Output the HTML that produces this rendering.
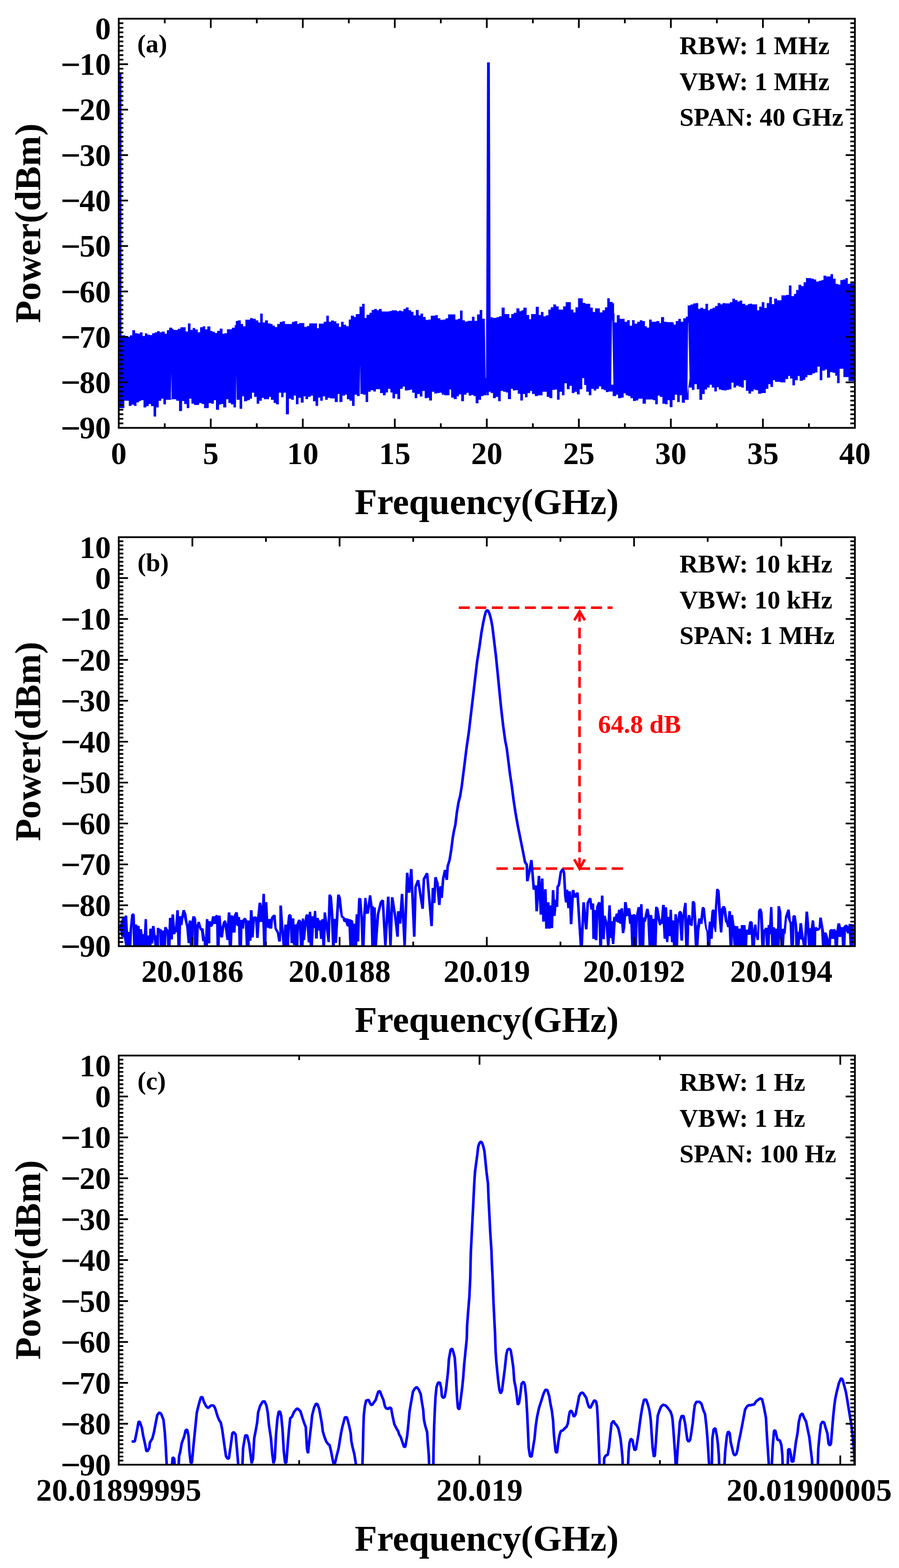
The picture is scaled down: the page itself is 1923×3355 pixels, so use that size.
<!DOCTYPE html>
<html><head><meta charset="utf-8"><title>Spectrum</title>
<style>html,body{margin:0;padding:0;background:#fff;}svg{display:block;}</style></head>
<body><svg width="1923" height="3355" viewBox="0 0 1923 3355">
<rect width="1923" height="3355" fill="#fff"/>
<defs>
<clipPath id="clipa"><rect x="254" y="40" width="1574.7" height="875.5"/></clipPath>
<clipPath id="clipb"><rect x="254" y="1149.4" width="1574.7" height="875.1"/></clipPath>
<clipPath id="clipc"><rect x="254" y="2258.5" width="1574.7" height="875.5"/></clipPath>
</defs>
<g clip-path="url(#clipa)">
<path d="M256,717.4 L268,717.4 L268,719.1 L274,719.1 L274,720.5 L278,720.5 L278,717.4 L283,717.4 L283,706.4 L289,706.4 L289,713 L294.5,713 L294.5,714.1 L299,714.1 L299,711.3 L305,711.3 L305,719.1 L310,719.1 L310,713.2 L315,713.2 L315,716 L320.5,716 L320.5,717.1 L325.5,717.1 L325.5,713 L331,713 L331,711.3 L336,711.3 L336,708.6 L341.5,708.6 L341.5,710.9 L346,710.9 L346,709.5 L352.5,709.5 L352.5,714.1 L357,714.1 L357,706.4 L362,706.4 L362,700.9 L368,700.9 L368,703.4 L371,703.4 L371,706.1 L380.5,706.1 L380.5,703.4 L386,703.4 L386,700.3 L397,700.3 L397,709.3 L402,709.3 L402,692.1 L407.5,692.1 L407.5,706.1 L412,706.1 L412,701.7 L417.5,701.7 L417.5,705 L423,705 L423,710.9 L428,710.9 L428,700.3 L433.5,700.3 L433.5,698.3 L439,698.3 L439,704.7 L443.5,704.7 L443.5,698.5 L450,698.5 L450,708.1 L454,708.1 L454,709.7 L459.5,709.7 L459.5,712.5 L464.5,712.5 L464.5,708.1 L470,708.1 L470,703.3 L476,703.3 L476,714.3 L480,714.3 L480,712.9 L485.5,712.9 L485.5,704.6 L496,704.6 L496,701.2 L502,701.2 L502,695.7 L504.5,695.7 L504.5,686.8 L509,686.8 L509,685.4 L515,685.4 L515,693.2 L520,693.2 L520,698.2 L525,698.2 L525,684 L535,684 L535,680.6 L540.5,680.6 L540.5,682 L547,682 L547,685.4 L552.5,685.4 L552.5,689.9 L556.5,689.9 L556.5,671 L562,671 L562,689.9 L567,689.9 L567,685.4 L573,685.4 L573,691.9 L578.5,691.9 L578.5,693.2 L583,693.2 L583,696.8 L588,696.8 L588,699.8 L593,699.8 L593,693.2 L598.5,693.2 L598.5,688.8 L604,688.8 L604,687.2 L609.5,687.2 L609.5,693.2 L624.5,693.2 L624.5,688.8 L630,688.8 L630,687.2 L636,687.2 L636,693.2 L640,693.2 L640,691.2 L651,691.2 L651,699.5 L656.5,699.5 L656.5,697.5 L661.5,697.5 L661.5,692 L678,692 L678,702.2 L682,702.2 L682,692.6 L692.5,692.6 L692.5,688.5 L698,688.5 L698,675.5 L703.5,675.5 L703.5,688.5 L708,688.5 L708,685.7 L714,685.7 L714,687.4 L719.5,687.4 L719.5,692 L725,692 L725,699.5 L729.5,699.5 L729.5,688.5 L735,688.5 L735,694.8 L740.5,694.8 L740.5,698.1 L746,698.1 L746,683.8 L750.5,683.8 L750.5,675.5 L757,675.5 L757,678.3 L761,678.3 L761,672 L769,672 L769,656.3 L774.5,656.3 L774.5,650 L780,650 L780,680.2 L784,680.2 L784,673.6 L790.5,673.6 L790.5,669.2 L795,669.2 L795,663.2 L800.5,663.2 L800.5,661 L806,661 L806,663.7 L810.5,663.7 L810.5,661 L816.5,661 L816.5,666.5 L832.5,666.5 L832.5,665.4 L838,665.4 L838,664 L849,664 L849,665.9 L853.5,665.9 L853.5,664.6 L858.5,664.6 L858.5,665.9 L863,665.9 L863,661 L868,661 L868,657.7 L874,657.7 L874,663.7 L879.5,663.7 L879.5,667.3 L884.5,667.3 L884.5,674.7 L889.5,674.7 L889.5,663.2 L895.5,663.2 L895.5,674.7 L899.5,674.7 L899.5,670.9 L905,670.9 L905,678.3 L910.5,678.3 L910.5,684.6 L916,684.6 L916,683.8 L921.5,683.8 L921.5,675.5 L931,675.5 L931,674.2 L936.5,674.2 L936.5,681 L942,681 L942,684.6 L947.5,684.6 L947.5,683.8 L953,683.8 L953,681 L958.5,681 L958.5,672.8 L974,672.8 L974,683.8 L979.5,683.8 L979.5,681.9 L984,681.9 L984,664.6 L989.5,664.6 L989.5,685.2 L994.5,685.2 L994.5,687.9 L1000,687.9 L1000,686.5 L1009.5,686.5 L1009.5,677.7 L1015,677.7 L1015,686.5 L1020.5,686.5 L1020.5,672.8 L1026,672.8 L1026,663.2 L1031.5,663.2 L1031.5,681.9 L1041.5,681.9 L1041.5,682.3 L1049.5,682.3 L1049.5,678.4 L1053.5,678.4 L1053.5,680.3 L1062,680.3 L1062,678.4 L1067.5,678.4 L1067.5,676.7 L1073,676.7 L1073,658.3 L1079.5,658.3 L1079.5,672 L1089.5,672 L1089.5,680.3 L1093.5,680.3 L1093.5,672 L1099,672 L1099,669.3 L1104.5,669.3 L1104.5,659.7 L1111,659.7 L1111,665.7 L1115.5,665.7 L1115.5,663.8 L1119.5,663.8 L1119.5,658.3 L1126.5,658.3 L1126.5,674 L1132,674 L1132,683 L1136,683 L1136,672 L1146,672 L1146,656.4 L1152.5,656.4 L1152.5,674 L1157,674 L1157,667.4 L1162.5,667.4 L1162.5,676.7 L1167.5,676.7 L1167.5,674.8 L1173,674.8 L1173,662.4 L1178,662.4 L1178,657.5 L1183.5,657.5 L1183.5,651.4 L1189.5,651.4 L1189.5,655.5 L1195,655.5 L1195,662.4 L1204.5,662.4 L1204.5,655.5 L1210,655.5 L1210,646.5 L1221,646.5 L1221,662.4 L1226.5,662.4 L1226.5,668.5 L1231,668.5 L1231,657.5 L1236.5,657.5 L1236.5,638.2 L1246.5,638.2 L1246.5,648.1 L1252,648.1 L1252,650.1 L1262.5,650.1 L1262.5,658.3 L1268,658.3 L1268,667.4 L1273,667.4 L1273,659.7 L1283,659.7 L1283,668.5 L1288.5,668.5 L1288.5,663.8 L1294,663.8 L1294,657.5 L1299,657.5 L1299,638.2 L1304.5,638.2 L1304.5,645.9 L1310.5,645.9 L1310.5,648.7 L1313.5,648.7 L1313.5,670.7 L1314.5,670.7 L1314.5,689.9 L1319.5,689.9 L1319.5,674.2 L1325.5,674.2 L1325.5,682.2 L1336,682.2 L1336,688.5 L1341.5,688.5 L1341.5,684.9 L1347,684.9 L1347,696.8 L1352,696.8 L1352,684.9 L1357.5,684.9 L1357.5,692.6 L1363,692.6 L1363,688.5 L1368.5,688.5 L1368.5,685.2 L1374,685.2 L1374,687.1 L1379.5,687.1 L1379.5,698.1 L1383.5,698.1 L1383.5,700.9 L1388.5,700.9 L1388.5,683.8 L1394,683.8 L1394,688.5 L1404,688.5 L1404,687.1 L1410.5,687.1 L1410.5,691.3 L1414,691.3 L1414,678.4 L1420.5,678.4 L1420.5,688.5 L1426,688.5 L1426,689.3 L1440,689.3 L1440,690.5 L1441,690.5 L1441,694.6 L1445.5,694.6 L1445.5,686.9 L1451,686.9 L1451,682.3 L1456.5,682.3 L1456.5,688.6 L1461.5,688.6 L1461.5,680.9 L1467,680.9 L1467,677.6 L1471,677.6 L1471,653.4 L1477,653.4 L1477,651.5 L1482.5,651.5 L1482.5,649.3 L1488,649.3 L1488,648.5 L1493.5,648.5 L1493.5,661.1 L1498,661.1 L1498,658.4 L1504,658.4 L1504,661.1 L1509,661.1 L1509,650.1 L1514.5,650.1 L1514.5,663.8 L1518.5,663.8 L1518.5,661.1 L1524,661.1 L1524,658.4 L1529.5,658.4 L1529.5,654.8 L1535,654.8 L1535,648.5 L1541,648.5 L1541,651.2 L1545.5,651.2 L1545.5,648.5 L1551.5,648.5 L1551.5,649.3 L1561,649.3 L1561,646.5 L1566.5,646.5 L1566.5,639.1 L1572,639.1 L1572,641.9 L1577.5,641.9 L1577.5,645.2 L1582,645.2 L1582,643 L1587.5,643 L1587.5,650.1 L1594,650.1 L1594,652.9 L1599.5,652.9 L1599.5,650.7 L1603.5,650.7 L1603.5,649.8 L1609,649.8 L1609,651.2 L1619.5,651.2 L1619.5,663.8 L1624,663.8 L1624,656.2 L1629.5,656.2 L1629.5,646.5 L1635,646.5 L1635,658.9 L1640,658.9 L1640,648.5 L1645.5,648.5 L1645.5,635.5 L1651,635.5 L1651,650.7 L1656,650.7 L1656,638.8 L1662,638.8 L1662,642.4 L1671.5,642.4 L1671.5,632 L1682,632 L1682,630.9 L1687.5,630.9 L1687.5,610.8 L1693,610.8 L1693,633.4 L1698.5,633.4 L1698.5,628.7 L1703,628.7 L1703,620.4 L1708,620.4 L1708,609.5 L1714,609.5 L1714,612.2 L1719,612.2 L1719,604 L1724,604 L1724,594.9 L1735,594.9 L1735,596.3 L1740.5,596.3 L1740.5,597.9 L1746,597.9 L1746,602.6 L1751.5,602.6 L1751.5,600.7 L1757,600.7 L1757,599.3 L1761.5,599.3 L1761.5,589.7 L1767,589.7 L1767,591.6 L1776.5,591.6 L1776.5,586.6 L1782,586.6 L1782,596.3 L1787.5,596.3 L1787.5,607.5 L1793,607.5 L1793,608.9 L1797.5,608.9 L1797.5,599.3 L1803,599.3 L1803,597.9 L1808.5,597.9 L1808.5,594.9 L1813.5,594.9 L1813.5,607.3 L1818,607.3 L1818,606.2 L1827.5,606.2 L1827.5,815.5 L1815,815.5 L1815,806.8 L1804,806.8 L1804,788.9 L1796,788.9 L1796,819.7 L1790.5,819.7 L1790.5,803.7 L1786.5,803.7 L1786.5,797.7 L1781,797.7 L1781,796.3 L1775.5,796.3 L1775.5,808.1 L1769,808.1 L1769,790.8 L1764.5,790.8 L1764.5,793 L1759,793 L1759,813.6 L1753.5,813.6 L1753.5,784.5 L1748.5,784.5 L1748.5,797.1 L1743,797.1 L1743,799.1 L1737.5,799.1 L1737.5,802.4 L1727,802.4 L1727,807.3 L1722.5,807.3 L1722.5,812.8 L1717.5,812.8 L1717.5,814.7 L1710.5,814.7 L1710.5,804.6 L1706.5,804.6 L1706.5,813.6 L1700.5,813.6 L1700.5,824.6 L1695,824.6 L1695,810.1 L1690,810.1 L1690,804.6 L1686,804.6 L1686,810.9 L1680,810.9 L1680,818.3 L1669.5,818.3 L1669.5,816.9 L1658,816.9 L1658,813.6 L1653.5,813.6 L1653.5,827.9 L1648,827.9 L1648,821.9 L1643.5,821.9 L1643.5,832 L1638,832 L1638,841.1 L1628.5,841.1 L1628.5,842.5 L1621.5,842.5 L1621.5,834.8 L1616,834.8 L1616,833.4 L1612,833.4 L1612,837.5 L1606.5,837.5 L1606.5,842.2 L1601,842.2 L1601,836.2 L1595.5,836.2 L1595.5,813.6 L1591,813.6 L1591,829.3 L1585.5,829.3 L1585.5,827.4 L1580,827.4 L1580,825.2 L1574.5,825.2 L1574.5,829.3 L1569,829.3 L1569,818.8 L1564.5,818.8 L1564.5,832.9 L1559.5,832.9 L1559.5,834.2 L1554,834.2 L1554,835.6 L1548.5,835.6 L1548.5,834.8 L1543,834.8 L1543,833.4 L1537.5,833.4 L1537.5,828.5 L1533.5,828.5 L1533.5,837.5 L1528,837.5 L1528,829.3 L1522.5,829.3 L1522.5,823.2 L1518,823.2 L1518,829.3 L1512.5,829.3 L1512.5,833.4 L1507.5,833.4 L1507.5,843 L1502,843 L1502,855.4 L1496,855.4 L1496,832.9 L1490.5,832.9 L1490.5,821.9 L1485.5,821.9 L1485.5,834.2 L1480,834.2 L1480,829.3 L1473,829.3 L1473,855.4 L1465,855.4 L1465,861.7 L1458.5,861.7 L1458.5,845.8 L1454,845.8 L1454,860.3 L1448.5,860.3 L1448.5,844.4 L1443.5,844.4 L1443.5,855.9 L1438.5,855.9 L1438.5,871.3 L1436,871.3 L1436,871.3 L1432.5,871.3 L1432.5,856.2 L1428,856.2 L1428,864.9 L1422.5,864.9 L1422.5,863.8 L1417,863.8 L1417,849.3 L1411.5,849.3 L1411.5,846.5 L1407,846.5 L1407,864.9 L1401.5,864.9 L1401.5,856.2 L1396.5,856.2 L1396.5,854.8 L1381.5,854.8 L1381.5,863.8 L1374.5,863.8 L1374.5,852.9 L1365.5,852.9 L1365.5,856.7 L1360,856.7 L1360,858.1 L1354,858.1 L1354,852 L1348.5,852 L1348.5,847.4 L1343.5,847.4 L1343.5,845.7 L1338.5,845.7 L1338.5,841.6 L1334,841.6 L1334,850.7 L1329,850.7 L1329,852 L1322,852 L1322,844.6 L1318,844.6 L1318,847.4 L1310.5,847.4 L1310.5,837.7 L1301.5,837.7 L1301.5,839.1 L1296,839.1 L1296,834.7 L1291.5,834.7 L1291.5,832.8 L1286,832.8 L1286,826.8 L1281,826.8 L1281,832 L1275.5,832 L1275.5,835.5 L1270,835.5 L1270,832 L1265,832 L1265,845.7 L1259.5,845.7 L1259.5,838.3 L1254,838.3 L1254,823.7 L1249.5,823.7 L1249.5,808.9 L1245.5,808.9 L1245.5,832.8 L1240,832.8 L1240,843.8 L1234,843.8 L1234,838.3 L1229,838.3 L1229,841 L1223,841 L1223,825.4 L1218.5,825.4 L1218.5,832.8 L1212.5,832.8 L1212.5,819.9 L1207.5,819.9 L1207.5,845.7 L1202,845.7 L1202,838.3 L1197,838.3 L1197,855.3 L1191.5,855.3 L1191.5,833.4 L1187,833.4 L1187,834.2 L1181.5,834.2 L1181.5,852 L1175,852 L1175,849.3 L1169.5,849.3 L1169.5,838.3 L1160.5,838.3 L1160.5,846 L1150.5,846 L1150.5,847.4 L1144,847.4 L1144,843 L1138,843 L1138,836.4 L1134,836.4 L1134,841 L1128.5,841 L1128.5,850.1 L1123,850.1 L1123,843 L1118.5,843 L1118.5,857 L1113,857 L1113,842.4 L1107.5,842.4 L1107.5,834.7 L1102.5,834.7 L1102.5,835.5 L1097,835.5 L1097,832 L1093,832 L1093,854 L1086.5,854 L1086.5,839.7 L1082,839.7 L1082,838.3 L1076.5,838.3 L1076.5,836.4 L1071,836.4 L1071,858.4 L1065.5,858.4 L1065.5,849.3 L1060.5,849.3 L1060.5,852 L1054.5,852 L1054.5,841 L1049.5,841 L1049.5,838.3 L1045.5,838.3 L1045.5,845.7 L1042,845.7 L1042,839.7 L1041.5,839.7 L1041.5,845.7 L1034.5,845.7 L1034.5,847.4 L1029,847.4 L1029,855.6 L1023.5,855.6 L1023.5,863 L1017.5,863 L1017.5,847.4 L1013,847.4 L1013,845.2 L1008,845.2 L1008,846.5 L1002.5,846.5 L1002.5,840.5 L998,840.5 L998,844.6 L992.5,844.6 L992.5,858.4 L986.5,858.4 L986.5,843.8 L981.5,843.8 L981.5,847.9 L977,847.9 L977,854 L970.5,854 L970.5,850.7 L965,850.7 L965,833.6 L961.5,833.6 L961.5,845.7 L950.5,845.7 L950.5,844.6 L945,844.6 L945,840.2 L940,840.2 L940,841 L935,841 L935,841.9 L929,841.9 L929,838.3 L924,838.3 L924,857 L918,857 L918,851.2 L914,851.2 L914,852 L908.5,852 L908.5,836.4 L903.5,836.4 L903.5,848.5 L898,848.5 L898,843 L892.5,843 L892.5,852 L887,852 L887,840.2 L881.5,840.2 L881.5,833.4 L878,833.4 L878,834.7 L872.5,834.7 L872.5,835.5 L866,835.5 L866,827.3 L861.5,827.3 L861.5,832 L856,832 L856,854 L850,854 L850,843 L845,843 L845,852.6 L839.5,852.6 L839.5,839.7 L835,839.7 L835,832 L830,832 L830,839.7 L825,839.7 L825,845.7 L819,845.7 L819,841 L813,841 L813,832.8 L804,832.8 L804,837.7 L798.5,837.7 L798.5,835 L793,835 L793,838.3 L787.5,838.3 L787.5,860.3 L782,860.3 L782,844.6 L776.5,844.6 L776.5,843 L771,843 L771,847.4 L763.5,847.4 L763.5,844.6 L758.5,844.6 L758.5,868.5 L753,868.5 L753,857.5 L747.5,857.5 L747.5,854.2 L742,854.2 L742,844.6 L738,844.6 L738,846.5 L732.5,846.5 L732.5,860.3 L726,860.3 L726,843 L722.5,843 L722.5,860.3 L716,860.3 L716,852.6 L706,852.6 L706,851.2 L701,851.2 L701,855.6 L695.5,855.6 L695.5,847.9 L690.5,847.9 L690.5,857.5 L685,857.5 L685,850.7 L680.5,850.7 L680.5,868.5 L675,868.5 L675,858.4 L669.5,858.4 L669.5,846.5 L664.5,846.5 L664.5,849.3 L659,849.3 L659,854 L653.5,854 L653.5,847.9 L649.5,847.9 L649.5,861.6 L643.5,861.6 L643.5,851.2 L638.5,851.2 L638.5,864.9 L633,864.9 L633,846.5 L628.5,846.5 L628.5,855.6 L623,855.6 L623,852.9 L618,852.9 L618,886.4 L611.5,886.4 L611.5,840.2 L606.5,840.2 L606.5,850.1 L601.5,850.1 L601.5,840.2 L596.5,840.2 L596.5,865.2 L590.5,865.2 L590.5,862.2 L585.5,862.2 L585.5,855.6 L579.5,855.6 L579.5,849.3 L575.5,849.3 L575.5,854.2 L564.5,854.2 L564.5,851.2 L560,851.2 L560,857.5 L554.5,857.5 L554.5,863.8 L549,863.8 L549,849.3 L543.5,849.3 L543.5,840.2 L539,840.2 L539,852.9 L534.5,852.9 L534.5,856.2 L529,856.2 L529,858.4 L522,858.4 L522,847.9 L518,847.9 L518,874.8 L512.5,874.8 L512.5,855.6 L505.5,855.6 L505.5,871.8 L499.5,871.8 L499.5,865.2 L494,865.2 L494,862.2 L488.5,862.2 L488.5,854.2 L484,854.2 L484,871.8 L477.5,871.8 L477.5,864.4 L472.5,864.4 L472.5,865.8 L468.5,865.8 L468.5,876.8 L462,876.8 L462,856.2 L457.5,856.2 L457.5,863.8 L452,863.8 L452,862.5 L446.5,862.5 L446.5,873.2 L436.5,873.2 L436.5,864.4 L431.5,864.4 L431.5,862.5 L426,862.5 L426,866.6 L415,866.6 L415,863.8 L409.5,863.8 L409.5,852.9 L405,852.9 L405,873.2 L399.5,873.2 L399.5,864.4 L394,864.4 L394,858.1 L389.5,858.1 L389.5,879.5 L383,879.5 L383,857.5 L377,857.5 L377,854.2 L365.5,854.2 L365.5,855.6 L355,855.6 L355,865.2 L349.5,865.2 L349.5,852.9 L345,852.9 L345,857.5 L339.5,857.5 L339.5,871.8 L334,871.8 L334,891.3 L328.5,891.3 L328.5,869.1 L323,869.1 L323,864.4 L318,864.4 L318,869.1 L313,869.1 L313,871.8 L307,871.8 L307,856.2 L301.5,856.2 L301.5,858.1 L297.5,858.1 L297.5,861.1 L292,861.1 L292,868.5 L286.5,868.5 L286.5,865.8 L281.5,865.8 L281.5,868.5 L275.5,868.5 L275.5,857.5 L266,857.5 L266,873.2 L256,873.2Z" fill="#0000ff"/>
<path d="M1041.8,133.6 L1047.8,133.6 L1049.4,700 L1040,700Z" fill="#0000ff"/>
<rect x="255.8" y="157.9" width="4" height="600" fill="#0000ff"/>
<path d="M366.3,796.8 L367.2,853 L365.6,853Z" fill="#fff"/>
<path d="M505.5,801 L506.4,873 L504.7,873Z" fill="#fff"/>
<path d="M770.2,779 L771.1,848 L769.4,848Z" fill="#fff"/>
<path d="M1037,682 L1039.8,682 L1039.6,809 L1038.9,809Z" fill="#fff"/>
<path d="M1309,686 L1309.6,686 L1312.1,823 L1307.4,823Z" fill="#fff"/>
<path d="M1472,690.5 L1472.4,690.5 L1475,809.6 L1470.3,843.6Z" fill="#fff"/>
</g>
<g stroke="#ff0000" stroke-width="5.5" fill="none">
<line x1="981.4" y1="1300.3" x2="1310.3" y2="1300.3" stroke-dasharray="23.4 11.95"/>
<line x1="1062" y1="1858.5" x2="1332.5" y2="1858.5" stroke-dasharray="24.1 11.1"/>
<line x1="1239.7" y1="1343" x2="1239.7" y2="1823.6" stroke-dasharray="22.8 12.4"/>
<line x1="1239.7" y1="1309" x2="1239.7" y2="1330.1"/>
<line x1="1239.6" y1="1835" x2="1239.6" y2="1858"/>
<polyline points="1228.5,1327.1 1239.8,1308.4 1251.1,1327.1" stroke-linejoin="miter" stroke-miterlimit="10"/>
<polyline points="1228.35,1838.65 1239.65,1858.6 1250.95,1838.65" stroke-linejoin="miter" stroke-miterlimit="10"/>
</g>
<text x="1279.3" y="1567.7" font-family="'Liberation Serif', 'Times New Roman', serif" font-weight="bold" font-size="55" fill="#ff0000">64.8 dB</text>
<g clip-path="url(#clipb)">
<path d="M255.4,1982.3 L260.9,1965.1 L261.6,1961.7 L266.4,1961 L267.4,1958.6 L272.2,1959.3 L273.9,1994 L276.7,1994 L280.4,1956.9 L284.2,1953.8 L288.3,1956.5 L289,1977.8 L293.5,1978.2 L294.2,1980.9 L298.6,1981.2 L299.3,1988.1 L303.8,1988.1 L305.2,1998.8 L307.6,1998.8 L309.3,1966.5 L314.4,1966.5 L315.5,2001.5 L318.9,2001.5 L319.2,1987.1 L324.4,1987.1 L325.1,1981.2 L330.6,1981.2 L333,2001.2 L334.7,2001.2 L335.4,1985.4 L340.5,1985 L341.6,1987.4 L345.7,1988.1 L346.4,1990.9 L350.5,1990.9 L351.2,1983.7 L354,1983.3 L354,2032 L341.9,2032 L340.7,1994.6 L339.9,2032 L330.9,2032 L328.9,2009.1 L327.8,2018.7 L324.4,2018.7 L324.1,2032 L284.9,2032 L283.2,1978.8 L280.8,2032 L269.1,2032 L264.6,2004.9 L259.2,2004.3 L255.4,1984.3Z" fill="#0000ff"/>
<path d="M354,1983.6 L356.2,1983.2 L360.3,1990.4 L361.3,1964 L366.5,1963.7 L366.8,1956.4 L372.3,1956.4 L374.4,1984.9 L377.1,1947.5 L382.6,1947.5 L383,1960.2 L387.8,1960.2 L390.2,1947.2 L395.3,1946.8 L398.8,1955.4 L402.2,1978.8 L403.6,1969.5 L408.7,1969.5 L409.4,1972.2 L411.5,1960.6 L417,1960.2 L419.7,1966.1 L420.4,1979.5 L422.5,1972.2 L427.6,1972.2 L431,1984.9 L435.5,1987 L438.6,2006.9 L440.3,1966.4 L445.5,1966.4 L446.2,1970.9 L450,1970.9 L450,2018.6 L445.1,2018.6 L444.4,2032 L436.2,2032 L435.5,2014.1 L432.4,2013.8 L429.7,1991.1 L427.6,1990.8 L425.2,1984.3 L423.8,2032 L414.9,2032 L414.2,1984.3 L413.5,2032 L406.3,2032 L405.6,2017.9 L401.2,2017.9 L398.1,1982.9 L392.9,1961.6 L390.5,1979.5 L387.4,1979.8 L386.1,2032 L379.5,2032 L378.5,1994.9 L376.1,1994.9 L375.1,1999 L370.3,1999 L369.9,2010 L365.5,2010 L364.8,2032 L357.6,2032 L356.5,1995.9 L354.8,2032 L354,2032Z" fill="#0000ff"/>
<path d="M450,1970.7 L451.4,1971.8 L453.4,1960.4 L459.6,1960.3 L462,1957.3 L466.5,1958.7 L472,1959.1 L474,1983.4 L477.1,1972.1 L480.9,1968.7 L484,1970.7 L485.7,1976.9 L487.1,1952.2 L492.9,1952.2 L493.3,1958.7 L497.4,1958.2 L499.5,1961.1 L501.2,1955.6 L503.6,1951.2 L508.7,1951.9 L509.8,1961.8 L513.5,1962.2 L513.9,1968 L518.7,1968 L522.1,1963.5 L526.2,1964.2 L529,1969.4 L533.8,1969.4 L534.5,1947.4 L540.3,1947.4 L541,1961.8 L545.5,1960.4 L550,1962.2 L550,2007.1 L547.9,2007.1 L545.5,1968 L542.7,2005.8 L538.3,2006.1 L537.9,2013 L534.1,2013 L533.8,2032 L525.9,2032 L523.5,1972.8 L522.1,1986.9 L518.7,1986.9 L517.7,2032 L510.1,2032 L509.1,1981.7 L506.3,1981.4 L504.9,1977.6 L503.9,1995.5 L497.4,1995.5 L496,2032 L489.5,2032 L488.5,2011.6 L484.3,2011.3 L480.2,1981.7 L477.1,2005.8 L472.7,2006.5 L470.6,2003.7 L469.8,2032 L463.2,2032 L462.2,1976.9 L456.9,1976.9 L454.8,1981.7 L452.1,1983.4 L450,1983.1Z" fill="#0000ff"/>
<path d="M550,1961.8 L553.1,1931.6 L558.9,1931.6 L560.3,1939.1 L561.3,1912.4 L566.8,1912.4 L567.2,1930.2 L572,1930.2 L573.7,1966.3 L578.8,1966.3 L580.6,1961.1 L585,1956.7 L589.8,1958 L591.9,1985.9 L595.3,1991.3 L597.4,1996.2 L597.5,1937.4 L603.2,1937.4 L607,1993.8 L608,1978.3 L613.9,1978.3 L615.9,1958.4 L619.4,1955.3 L623.8,1958 L624.5,1964.9 L629.7,1964.9 L630,1978 L633.8,1978 L637.6,1967.7 L642.4,1967.7 L645.1,1972.1 L645.5,1965.2 L650,1965.2 L650,2012.6 L648.9,2032 L642,2032 L639.3,1985.9 L638.3,2032 L631,2032 L630.4,2021.9 L626.9,2021.9 L626.2,2018.1 L621.4,2018.1 L620.1,1985.9 L618,2032 L604.9,2032 L601.9,1994.8 L600.8,2014.7 L595,2014.7 L591.9,1996.2 L587.4,1987.9 L584.3,1965.9 L582.3,1986.9 L576.1,1986.9 L573.7,1985.2 L570.6,1984.8 L569.9,2032 L563,2032 L561,1972.8 L555.5,1972.8 L553.4,2006.8 L550,2006.8Z" fill="#0000ff"/>
<path d="M650,1965.1 L651,1971.3 L653.1,1957.9 L656.2,1955.8 L659.8,1957.4 L660.8,1950.7 L665.5,1950.7 L666.5,1960.4 L670.6,1960.4 L671.6,1949.1 L676.3,1949.1 L677.3,1964 L681.9,1964 L683,1969.2 L687.1,1969.2 L687.6,1966.6 L691.7,1966.6 L692.2,1952.2 L697.4,1952.2 L700.5,1974.4 L702.5,1914.6 L707.2,1913.6 L710.3,1918.7 L713.9,1966.1 L718,1966.1 L721.1,1914.6 L726.2,1913.6 L729.3,1920.8 L733.4,1959.4 L736.5,1961.5 L737.6,1964 L739.6,1964.6 L743.7,1965.1 L746.8,1966.6 L749.9,1967.1 L755.1,1969.7 L756.1,1976.4 L759.7,1976.4 L760.7,1956.3 L764.4,1956.3 L765.9,1922.3 L769.5,1920.8 L773.1,1922.8 L776.2,1963 L779.3,1921.3 L783.9,1921.3 L786,1938.3 L789.1,1915.6 L794.2,1915.6 L797.3,1939.3 L800,1939.3 L800,2032 L794.2,2032 L791.7,1939.3 L789.1,1954.8 L782.4,1955.8 L779.8,2032 L773.1,2032 L770.5,1951.7 L768.5,2014.5 L764.4,2014.5 L763.8,2032 L747.4,2032 L745.3,1982.6 L741.7,1982.6 L738.6,1973.3 L734.5,1972.3 L732.4,1964.6 L729.3,1963 L725.2,1940.4 L721.1,2017.6 L716.4,2017.6 L715.9,2032 L710.3,2032 L707.2,1955.8 L705.6,2016.1 L700.5,2016.1 L696.9,1986.7 L695.3,2032 L689.7,2032 L688.6,2008.9 L684.5,2008.9 L683,1991.3 L680.4,1991.3 L679.9,2008.3 L673.7,2008.3 L673.2,1985.7 L671.6,1985.7 L669.1,2032 L663.4,2032 L661.8,2016.6 L658.2,2016.6 L655.7,1979.5 L652.6,2011.4 L650,2011.4Z" fill="#0000ff"/>
<path d="M1290,1915.5 L1291.5,1959.2 L1295.7,1959.2 L1299.3,1973.7 L1301.3,1937.1 L1306.5,1937.1 L1308,1971.1 L1310.6,1971.1 L1311.6,1961.8 L1315.2,1961.8 L1316.8,1954.6 L1320.9,1954.6 L1321.9,1946.4 L1326.6,1946.4 L1327.6,1943.3 L1332.8,1943.3 L1333.8,1955.6 L1334.8,1929.9 L1340.5,1929.9 L1342.5,1943.3 L1348.2,1943.3 L1350.3,1957.2 L1353.4,1957.2 L1353.9,1956.1 L1358.5,1956.1 L1360.1,1959.2 L1363.7,1940.7 L1368.8,1940.7 L1369.3,1934.5 L1374.5,1934.5 L1375.5,1963.4 L1378.1,1962.8 L1382.2,1944.3 L1387.4,1944.3 L1389.9,1957.7 L1395.1,1957.7 L1396.1,1965.9 L1399.7,1965.9 L1401.3,1940.2 L1405.4,1939.7 L1408.5,1943.3 L1412.6,1967 L1413.6,1967.5 L1416.2,1936.1 L1421.9,1936.1 L1422.4,1941.2 L1427,1941.2 L1428,1961.8 L1431.7,1961.8 L1432.2,1946.4 L1437.3,1946.4 L1438.3,1969 L1440,1969.5 L1440,2032 L1438.9,2016.4 L1435.3,2015.9 L1434.2,2003 L1430.6,2003 L1429.6,2015.9 L1425,2015.9 L1423.9,2008.7 L1419.3,2008.2 L1417.7,1976.7 L1415.2,1976.7 L1413.6,1979.8 L1409.5,1979.8 L1406.4,1967 L1404.4,2032 L1387.4,2032 L1384.3,1961.8 L1381.7,1972.6 L1379.6,1972.6 L1378.1,2032 L1366.2,2032 L1364.2,1965.9 L1362.6,2032 L1350.3,2032 L1348.2,1976.7 L1345.6,1976.7 L1343.6,1959.8 L1339.4,1960.8 L1337.4,1985.5 L1335.3,1996.8 L1330.2,1996.8 L1328.6,1976.7 L1325.5,1976.7 L1324,1974.2 L1319.9,1973.7 L1317.3,1971.1 L1314.2,2020 L1309.1,2020 L1307.5,2007.1 L1304.9,2007.1 L1303.4,2032 L1298.8,2032 L1295.2,1978.3 L1293.6,2009.7 L1290,2009.7Z" fill="#0000ff"/>
<path d="M1440,1969.5 L1442.1,1969.5 L1442.6,1956.1 L1447.7,1956.1 L1449.3,1965.9 L1450.8,1952 L1454.4,1948.4 L1458.5,1951 L1460.1,1957.7 L1461.6,1943.3 L1463.7,1931.4 L1468.8,1931.9 L1469.9,1967 L1471.4,1957.7 L1476.6,1957.7 L1478.1,1967 L1479.7,1928.8 L1484.3,1927.3 L1487.4,1931.9 L1490.5,1982.4 L1493.6,1964.9 L1498.2,1964.9 L1500.8,1941.7 L1504.9,1940.2 L1508,1943.3 L1512.1,1985.5 L1514.2,1992.7 L1516.2,1972.1 L1519.8,1972.1 L1521.9,1947.9 L1525.5,1945.3 L1528.6,1947.4 L1531.7,1902.1 L1536.3,1901.5 L1539.4,1905.7 L1542,1945.3 L1545.1,1939.1 L1549.7,1938.1 L1552.8,1943.3 L1556.4,1970.1 L1558,1949.4 L1563.6,1949.4 L1564.1,1957.7 L1568.3,1957.7 L1571.3,1980.4 L1573.9,1981.4 L1579.1,1981.4 L1579.6,1987.1 L1584.2,1987.1 L1584.7,1979.3 L1590,1979.3 L1590,2032 L1569.3,2032 L1567.7,2003 L1566.7,2032 L1560.5,2032 L1558.5,1984 L1555.4,1984 L1553.3,1976.2 L1550.7,1972.1 L1547.7,1953.6 L1545.1,1995.3 L1539.9,1995.3 L1534.3,1930.9 L1532.2,1994.3 L1529.1,1994.3 L1526,1981.4 L1524.5,2008.7 L1520.4,2008.7 L1519.3,2032 L1512.6,2032 L1511.1,1993.7 L1508.5,1986.5 L1504.4,1961.8 L1502.8,1976.7 L1498.2,1976.7 L1496.1,1990.7 L1493.6,2032 L1486.4,2032 L1483.3,1961.8 L1481.7,1980.9 L1478.1,1981.4 L1474.5,1978.3 L1473,2032 L1465.8,2032 L1463.2,1961.8 L1461.1,2012.8 L1455.5,2012.8 L1452.4,1971.1 L1450.3,2032 L1440,2032Z" fill="#0000ff"/>
<path d="M1590,1979.3 L1594.6,1979.3 L1595.7,1989.6 L1599.8,1988.6 L1602.4,1972.1 L1606.5,1970.6 L1610.1,1973.1 L1611.6,1989.6 L1613.2,1978.3 L1618.3,1978.3 L1619.9,1997.9 L1621.4,1948.4 L1624.5,1943.8 L1628.6,1944.3 L1631.2,1952.5 L1633.3,1989.6 L1637.4,1984.5 L1641.5,1985.5 L1642,1979.3 L1645.1,1979.3 L1647.2,1940.7 L1652.3,1940.7 L1653.9,1984 L1657.5,1984 L1658.5,1987.1 L1662.1,1987.1 L1663.1,1939.1 L1668.3,1938.6 L1671.4,1951.5 L1672.4,1987.6 L1676.5,1987.1 L1679.1,1960.8 L1684.3,1945.8 L1689.4,1946.4 L1692,1972.1 L1694,1972.1 L1695.1,1959.8 L1698.2,1957.7 L1702.3,1959.2 L1704.9,1977.3 L1706.4,1993.7 L1708.5,1993.7 L1710,1975.2 L1715.7,1975.2 L1717.7,1992.7 L1719.8,2008.2 L1722.9,1950.5 L1728.6,1950.5 L1731.7,1986.5 L1734.2,1985.5 L1736.3,1969 L1740,1969 L1740,2032 L1728.6,2032 L1726.5,1995.8 L1725,2032 L1718.3,2032 L1715.2,2011.3 L1711.6,2009.2 L1709.5,2032 L1701.3,2032 L1699.7,1976.2 L1698.2,2032 L1691,2032 L1688.9,1976.2 L1683.7,1961.8 L1680.7,1997.4 L1678.6,1997.9 L1676.5,2032 L1670.4,2032 L1668.8,2006.1 L1667.3,2032 L1649.8,2032 L1648.7,1998.9 L1647.2,1998.9 L1646.1,2032 L1638.4,2032 L1636.9,1995.8 L1635.3,2032 L1628.6,2032 L1625.5,1961.8 L1623.5,2011.3 L1618.3,2011.8 L1616.3,2001.5 L1614.7,2032 L1607.5,2032 L1606,1999.9 L1599.3,2000.4 L1597.7,2032 L1590,2032Z" fill="#0000ff"/>
<path d="M1740,1969.8 L1741.5,1969.4 L1743,1984.5 L1745.9,1983.1 L1748.4,1984.9 L1750.6,1986.3 L1752.4,1963.3 L1757.8,1963.3 L1763.2,1995 L1767.5,1995 L1769.3,1998.2 L1772.5,2010.1 L1773.6,1991 L1776.9,1987.4 L1780.5,1988.5 L1786.2,1987.4 L1788.8,1992.1 L1791.3,1975.5 L1797.1,1975.5 L1798.9,1983.8 L1803.6,1983.8 L1805.7,1980.6 L1808.6,1978.4 L1811.8,1978.4 L1814.4,1982 L1815.5,1976.6 L1820.5,1977 L1826.6,1977.7 L1826.6,2032 L1817.6,2032 L1815.8,1997.5 L1812.2,1997.5 L1809.7,1992.1 L1808.2,2032 L1801,2032 L1800,2004.7 L1793.5,2004.7 L1792.7,2032 L1785.2,2032 L1784.4,2009.1 L1778,2009.1 L1777.2,2032 L1768.9,2032 L1767.5,2021 L1766.8,2032 L1758.5,2032 L1756,1984.9 L1753.8,1989.6 L1750.6,1991.4 L1746.2,1992.1 L1745.5,2032 L1740,2032Z" fill="#0000ff"/>
<path d="M798.2,2022.7 L801,1941.6 L803.7,2022.7 L808.5,1956.8 L814.7,1930.7 L818.8,1926.5 L824.3,2022.7 L830.5,1918.6 L835.3,2022.7 L838.9,1919.9 L845.6,1962.3 L850.4,2004.3 L851.8,1949.9 L855.9,1976 L860,1912.8 L865.5,2022.7 L871,1867.5 L875.2,1910.1 L879.7,1859.5 L886.1,2004.3 L888.9,1897.7 L894.4,1883.4 L897.8,1904.6 L904,1944.4 L906.7,1881.2 L913.6,1868.6 L923.2,1981.5 L926,1899.9 L928.7,1932 L931.5,1877.1 L935.6,1890.1 L939.7,1936.2 L942.5,1896.3 L944.7,1921 L948,1879.8 L952.1,1861.7 L955.6,1882.6 L957.6,1853.7 L961.7,1840 L965,1819.8 L968.5,1792.3 L971.2,1777.2 L974,1764.8 L977.4,1737.4 L980.8,1716.8 L984.3,1703 L987.7,1682.4 L991.1,1655 L994.6,1627.5 L998,1600 L1002.8,1567.2 L1007.2,1529.4 L1011.7,1491.6 L1016.1,1453.8 L1020.5,1416 L1025.5,1384.5 L1029.9,1353 L1033.5,1333 L1036.5,1319 L1039.2,1309 L1041.9,1305.5 L1044.5,1307.5 L1047,1313 L1050.3,1325 L1053.2,1340.4 L1057,1371.9 L1060.8,1403.4 L1064.6,1441.2 L1068.3,1479 L1072.1,1516.8 L1076.5,1554.6 L1080.9,1586 L1083.8,1600 L1087.3,1627.5 L1090.7,1655 L1094.8,1682.4 L1098.3,1709.9 L1102.4,1737.4 L1107.2,1764.8 L1112.7,1792.3 L1118.2,1819.8 L1123,1844.5 L1126.8,1850.3 L1127.9,1885.5 L1132.3,1865.7 L1136.7,1840.4 L1141.9,1903.2 L1146,1894.9 L1148,1949.9 L1152.9,1874.3 L1157,1956.8 L1159.8,1879.8 L1162.5,1971.9 L1166.6,1902.6 L1168.8,1987 L1172.7,1930.7 L1174.9,1987 L1177.6,1937.5 L1180.4,1985.6 L1183.1,1904.6 L1185.9,1959.5 L1188.6,1925.2 L1191.4,1940.3 L1192.7,1897.7 L1195.5,1893.6 L1199.6,1866.1 L1203.7,1859.8 L1206.5,1867.5 L1209.2,1916.9 L1211.1,1930.7 L1212.8,1903.7 L1216.1,1943 L1218.8,1907.3 L1221.6,1977.4 L1225.7,1904.6 L1229.8,1919.7 L1235.3,1910.1 L1243.6,2039.8 L1248.4,1930.7 L1254,1988.4 L1257.3,1932 L1262.4,1922.1 L1265.5,1945.8 L1268.3,1933.4 L1269.7,2009 L1272.4,1947.1 L1275.2,2011.7 L1277.9,1940.3 L1282,1930.7 L1284.8,2045.1 L1288.1,1916.4 L1290.3,2009" fill="none" stroke="#0000ff" stroke-width="5.6" stroke-linejoin="bevel"/>
</g>
<g clip-path="url(#clipc)">
<path d="M281.5,3084.2 L288.3,3084.2 L292.5,3063.6 L296.6,3041.6 L299.3,3043 L303.5,3055.4 L306.2,3071.9 L310.3,3089.7 L313.1,3104.8 L315.8,3104.8 L319.4,3098 L320.5,3087 L326,3077.4 L329.5,3063.6 L333.7,3041.6 L336.4,3027.9 L340.5,3022.4 L344.7,3025.2 L349.6,3037.5 L352.4,3063.6 L354.3,3091.1 L356.2,3126.8 L357.8,3165.5 L365.3,3162.6 L369.4,3118 L372.7,3121.3 L374.9,3162.2 L380.9,3158.8 L383.1,3115.8 L385.9,3104.8 L388.6,3088.4 L394.1,3073.2 L396.9,3060.9 L400.2,3058.7 L403.2,3071.9 L405.1,3104.8 L407.8,3129.6 L410.6,3129.6 L413.3,3099.3 L417.5,3056.8 L421,3022.4 L425.7,3003.2 L429.8,2989.5 L433.1,2989.5 L435.9,2999.1 L440.8,3008.7 L444.1,3012 L446.3,3012 L451.3,3007.3 L456.7,3007.3 L460,3012.8 L465.5,3030.7 L468.3,3037.5 L472.4,3044.4 L475.2,3058.1 L477.9,3077.4 L480.6,3096.6 L483.4,3115.8 L487,3121.3 L489.7,3119.9 L493,3096.6 L497.1,3066.4 L499.9,3064.2 L504,3069.1 L506.7,3099.3 L509.5,3132.3 L511.7,3169.5 L517.2,3172.5 L519.9,3099.3 L524.6,3071.3 L528.7,3071.3 L532.8,3088.4 L535.6,3110.3 L538.3,3130.9 L541.1,3121.3 L543.8,3077.4 L548,3055.4 L550.2,3043 L552.1,3022.4 L556.2,3008.7 L561.7,2999.1 L565.8,2998.2 L569.9,3007.3 L572.7,3022.4 L575.4,3049.9 L579.5,3077.4 L582.3,3110.3 L585,3130.9 L587.8,3121.3 L590.5,3069.1 L593.3,3036.2 L596,3021 L598.8,3019.7 L601.5,3029.3 L604.3,3058.1 L607,3104.8 L609.8,3129.6 L612.5,3129.6 L615.3,3093.8 L618,3060.9 L620.8,3034.8 L624.9,3030.7 L629,3021 L634.5,3014.2 L637.2,3014.2 L642.7,3019.7 L646.9,3033.4 L651,3045.8 L654,3053.1 L656.7,3099.8 L658.9,3109.4 L662.2,3077.8 L665.5,3050.3 L667.7,3028.4 L671.9,3011.9 L676,3003.1 L679.3,3005 L682.8,3014.6 L685.6,3029.7 L688.3,3044.8 L690.5,3062.7 L693.8,3073.7 L698,3084.7 L702.1,3090.2 L704.8,3091.5 L707.6,3102.5 L710.3,3116.3 L713.1,3130.8 L716.6,3130.8 L719.9,3116.3 L724.1,3099.8 L726.8,3083.3 L729.5,3066.8 L732.3,3053.1 L735.6,3040.7 L737.8,3032.5 L741.9,3032.5 L744.7,3042.1 L747.4,3053.1 L750.2,3066.8 L751.5,3083.3 L754.3,3097 L757.8,3110.8 L761.1,3131.4 L763.3,3159.3 L774.3,3164.6 L776.3,3099.8 L777.1,3061.3 L778.2,3028.4 L780.4,3009.1 L783.1,2996.8 L788.6,2995.4 L791.4,3002.3 L794.1,3006.4 L796.9,3005 L799.6,3000.9 L803.7,2995.4 L806.5,2985.8 L809.2,2977.5 L812.8,2976.7 L816.1,2985.8 L820.2,2995.4 L823,3007.7 L825.7,3013.2 L829.8,3014.6 L833.9,3011.9 L836.7,3013.2 L839.4,3028.4 L843.6,3047.6 L847.7,3055.8 L851.8,3062.7 L854,3069.6 L857.3,3075.1 L860,3083.3 L864.2,3095.7 L866.9,3095.7 L871,3072.3 L873.8,3044.8 L876,3020.1 L879.3,3000.9 L883.4,2977.5 L887.5,2970.7 L891.6,2967.9 L895.8,2973.4 L899.9,2983 L902.6,3000.9 L905.4,3017.4 L906.7,3036.6 L909.5,3050.3 L913.6,3064.1 L915,3086 L917.2,3113.5 L918.3,3147.7 L926.5,3165.6 L927.4,3099.8 L928.7,3050.3 L930.1,3017.4 L931.5,2989.9 L933.7,2967.9 L937,2958.3 L941.1,2958.3 L943.8,2970.7 L945.2,2987.1 L948,2991.3 L951.3,2988.5 L954,2973.4 L956.2,2954.2 L958.4,2934.9 L960.3,2907.5 L963.9,2888.2 L967.2,2885.5 L969.9,2893.7 L972.7,2904.7 L974.9,2934.9 L976,2962.4 L977.6,2989.9 L979.5,3011.9 L982.3,3016 L985,2998.1 L988.8,2967.9 L990.8,2947.3 L992.9,2919.8 L995.6,2892.3 L998.4,2864.8 L999.1,2837.4 L1001.1,2809.9 L1003.9,2775.5 L1005.9,2734.3 L1006.6,2700 L1007.2,2677.2 L1008.5,2652 L1010.4,2614.2 L1012.3,2576.4 L1013.5,2551.2 L1014.8,2526 L1016.1,2507.1 L1018.6,2488.2 L1021.1,2469.3 L1023,2453 L1025.5,2446 L1028.7,2442.5 L1031.5,2446 L1033.8,2453 L1036.2,2463 L1038.1,2481.9 L1040.6,2507.1 L1043.8,2532.3 L1045,2563.8 L1046.9,2601.6 L1048.8,2639.4 L1051.3,2677.2 L1052,2700 L1054,2741.2 L1055.4,2782.4 L1057.4,2823.6 L1058.8,2851.1 L1060.2,2892.3 L1061.6,2912.9 L1063.6,2933.5 L1065.7,2954.1 L1068.4,2974.7 L1071.2,2981.6 L1073.9,2974.7 L1077.4,2947.3 L1080.1,2926.6 L1082.9,2899.2 L1085.6,2888.2 L1089.7,2885.5 L1092.5,2889.6 L1095.2,2906 L1098,2926.6 L1100,2954.1 L1102.8,2967.9 L1104.8,2981.6 L1107.6,3005.8 L1110.3,3001.6 L1113.1,2982.4 L1115.8,2960.4 L1119.9,2956.3 L1122.7,2963.2 L1125.4,2987.9 L1127.6,3023.6 L1129.5,3064.8 L1130.9,3097.8 L1133.7,3115.7 L1137,3117 L1139.7,3100.5 L1143.3,3078.6 L1146,3051.1 L1148.8,3031.9 L1152.9,3012.6 L1157.8,2997.5 L1162.5,2982.4 L1166.6,2973.6 L1170.8,2974.2 L1174.9,2987.9 L1177.6,3004.4 L1180.4,3018.1 L1183.1,3040.1 L1184.5,3064.8 L1185.9,3081.3 L1188.6,3106 L1191.4,3108.8 L1194.1,3086.8 L1196.9,3070.3 L1199.6,3062.1 L1203.7,3060.7 L1207.8,3056.6 L1212,3052.5 L1214.7,3045.6 L1216.6,3031.9 L1218.8,3020.9 L1221.6,3018.1 L1224.3,3022.3 L1227.6,3031.3 L1231.2,3026.4 L1233.9,3012.6 L1236.7,2998.9 L1238.6,2987.9 L1242.2,2981 L1246.3,2979.7 L1250.4,2985.2 L1254,2990.7 L1256.7,3001.6 L1259.5,3009.9 L1262.8,3012.6 L1265.5,3007.1 L1268.3,3001.6 L1271,2996.2 L1275.2,2998.9 L1277.1,3009.9 L1278.7,3037.4 L1279.8,3064.8 L1280.9,3092.3 L1282,3119.8 L1283.1,3164.1 L1290.8,3173.8 L1292.5,3119.8 L1295.8,3114.3 L1299.9,3112.9 L1302.6,3097.8 L1305.4,3070.3 L1308.1,3045.6 L1312.2,3040.1 L1315,3045.6 L1319.1,3049.7 L1322.7,3056.6 L1324.6,3064.8 L1327.4,3078.6 L1329.5,3097.8 L1331.5,3119.8 L1333.1,3169 L1342.5,3154 L1344.7,3106 L1346.6,3086.8 L1349.3,3078.6 L1352.9,3081.3 L1354.8,3092.3 L1357.6,3103.3 L1360.3,3100.5 L1363.1,3084.1 L1365.8,3067.6 L1368.6,3045.6 L1371.3,3026.4 L1374.1,3009.9 L1377.6,2994.8 L1382.3,2994.8 L1386.4,3007.1 L1389.2,3018.1 L1391.9,3037.4 L1394.1,3070.3 L1396,3097.8 L1398.8,3117 L1400.7,3114.3 L1402.9,3086.8 L1405.1,3053.8 L1407,3029.1 L1410.6,3018.1 L1413.9,3009.9 L1418,3005.8 L1423.5,3007.1 L1427.6,3011.3 L1431.7,3016.8 L1434.5,3020.9 L1437.2,3029.1 L1438.6,3037.4 L1440.8,3064.8 L1442.7,3092.3 L1444.7,3119.8 L1446,3156.8 L1449.6,3099.8 L1452.4,3066.8 L1454.3,3042.1 L1457.9,3029.7 L1462,3029.7 L1465.3,3044.8 L1467.5,3061.3 L1470.2,3080.5 L1473,3084.7 L1476.3,3080.5 L1479,3064.1 L1481.8,3044.8 L1484,3022.9 L1486.2,3006.4 L1489.5,2999.5 L1496.3,2999.5 L1500.4,3003.6 L1504.6,3017.4 L1508.1,3025.6 L1510.9,3050.3 L1512.8,3072.3 L1514.7,3099.8 L1516.4,3127.3 L1518,3146.6 L1522.1,3158.9 L1523.8,3077.8 L1526.5,3058.6 L1530.1,3055.8 L1533.4,3072.3 L1535.6,3088.8 L1537.5,3113.5 L1538.9,3150.7 L1548.8,3149.3 L1551.3,3105.3 L1554.8,3072.3 L1557.6,3062.7 L1560.9,3066.8 L1563.1,3086 L1566.4,3099.8 L1569.1,3110.8 L1571.9,3114.1 L1575.2,3110.8 L1577.4,3102.5 L1580.1,3086 L1584.2,3066.8 L1588.4,3044.8 L1593.8,3016 L1598,3009.1 L1602.1,3006.4 L1604.8,3006.9 L1609,3005.8 L1613.1,3005 L1617.2,2998.7 L1621.3,2995.4 L1626.3,2992.1 L1630.1,2994 L1633.7,3009.1 L1636.4,3022.9 L1638.4,3033.8 L1640.5,3072.3 L1643.3,3113.5 L1645.5,3147.7 L1649.3,3167.5 L1652.9,3094.3 L1655.7,3061.3 L1658.4,3060.8 L1661.2,3072.3 L1663.1,3080.5 L1668,3081.9 L1671.3,3091.5 L1673.5,3113.5 L1674.6,3149.6 L1684.5,3152.9 L1685.9,3102.5 L1688.6,3099.8 L1691.4,3110.8 L1693.3,3127.3 L1696.9,3127.3 L1699.6,3108 L1702.4,3086 L1705.9,3066.8 L1708.7,3042.1 L1712,3028.4 L1716.1,3024.2 L1720.2,3033.8 L1724.3,3042.1 L1727.1,3055.8 L1731.2,3075.1 L1734,3099.8 L1736.7,3121.8 L1738.6,3156.9 L1748.2,3170.4 L1750.4,3099.8 L1753.2,3069.6 L1755.9,3047.6 L1759.2,3042.1 L1762.8,3043.5 L1765.5,3053.1 L1769.7,3066.8 L1772.4,3088.8 L1775.2,3092.9 L1777.4,3088.8 L1779.3,3066.8 L1782,3033.8 L1784.8,3006.4 L1786.7,2992.6 L1790.3,2976.2 L1794.4,2959.7 L1799.3,2948.7 L1802.6,2952.8 L1805.9,2965.2 L1809.5,2978.9 L1812.3,2995.4 L1815,3011.9 L1817.7,3028.4 L1820.5,3044.8 L1823.2,3066.8 L1826,3094.3 L1827.9,3121.8 L1829,3148.3" fill="none" stroke="#0000ff" stroke-width="5.6" stroke-linejoin="bevel"/>
</g>
<path d="M450.8,915.5L450.8,895.7 M450.8,40L450.8,59.8 M647.7,915.5L647.7,895.7 M647.7,40L647.7,59.8 M844.5,915.5L844.5,895.7 M844.5,40L844.5,59.8 M1041.3,915.5L1041.3,895.7 M1041.3,40L1041.3,59.8 M1238.2,915.5L1238.2,895.7 M1238.2,40L1238.2,59.8 M1435,915.5L1435,895.7 M1435,40L1435,59.8 M1631.9,915.5L1631.9,895.7 M1631.9,40L1631.9,59.8 M352.4,915.5L352.4,905.7 M352.4,40L352.4,49.8 M549.3,915.5L549.3,905.7 M549.3,40L549.3,49.8 M746.1,915.5L746.1,905.7 M746.1,40L746.1,49.8 M942.9,915.5L942.9,905.7 M942.9,40L942.9,49.8 M1139.8,915.5L1139.8,905.7 M1139.8,40L1139.8,49.8 M1336.6,915.5L1336.6,905.7 M1336.6,40L1336.6,49.8 M1533.4,915.5L1533.4,905.7 M1533.4,40L1533.4,49.8 M1730.3,915.5L1730.3,905.7 M1730.3,40L1730.3,49.8 M254,137.3L273.8,137.3 M1828.7,137.3L1808.9,137.3 M254,234.6L273.8,234.6 M1828.7,234.6L1808.9,234.6 M254,331.8L273.8,331.8 M1828.7,331.8L1808.9,331.8 M254,429.1L273.8,429.1 M1828.7,429.1L1808.9,429.1 M254,526.4L273.8,526.4 M1828.7,526.4L1808.9,526.4 M254,623.7L273.8,623.7 M1828.7,623.7L1808.9,623.7 M254,720.9L273.8,720.9 M1828.7,720.9L1808.9,720.9 M254,818.2L273.8,818.2 M1828.7,818.2L1808.9,818.2 M254,49.7L263.8,49.7 M1828.7,49.7L1818.9,49.7 M254,59.5L263.8,59.5 M1828.7,59.5L1818.9,59.5 M254,69.2L263.8,69.2 M1828.7,69.2L1818.9,69.2 M254,78.9L263.8,78.9 M1828.7,78.9L1818.9,78.9 M254,88.6L263.8,88.6 M1828.7,88.6L1818.9,88.6 M254,98.4L263.8,98.4 M1828.7,98.4L1818.9,98.4 M254,108.1L263.8,108.1 M1828.7,108.1L1818.9,108.1 M254,117.8L263.8,117.8 M1828.7,117.8L1818.9,117.8 M254,127.6L263.8,127.6 M1828.7,127.6L1818.9,127.6 M254,147L263.8,147 M1828.7,147L1818.9,147 M254,156.7L263.8,156.7 M1828.7,156.7L1818.9,156.7 M254,166.5L263.8,166.5 M1828.7,166.5L1818.9,166.5 M254,176.2L263.8,176.2 M1828.7,176.2L1818.9,176.2 M254,185.9L263.8,185.9 M1828.7,185.9L1818.9,185.9 M254,195.6L263.8,195.6 M1828.7,195.6L1818.9,195.6 M254,205.4L263.8,205.4 M1828.7,205.4L1818.9,205.4 M254,215.1L263.8,215.1 M1828.7,215.1L1818.9,215.1 M254,224.8L263.8,224.8 M1828.7,224.8L1818.9,224.8 M254,244.3L263.8,244.3 M1828.7,244.3L1818.9,244.3 M254,254L263.8,254 M1828.7,254L1818.9,254 M254,263.7L263.8,263.7 M1828.7,263.7L1818.9,263.7 M254,273.5L263.8,273.5 M1828.7,273.5L1818.9,273.5 M254,283.2L263.8,283.2 M1828.7,283.2L1818.9,283.2 M254,292.9L263.8,292.9 M1828.7,292.9L1818.9,292.9 M254,302.6L263.8,302.6 M1828.7,302.6L1818.9,302.6 M254,312.4L263.8,312.4 M1828.7,312.4L1818.9,312.4 M254,322.1L263.8,322.1 M1828.7,322.1L1818.9,322.1 M254,341.6L263.8,341.6 M1828.7,341.6L1818.9,341.6 M254,351.3L263.8,351.3 M1828.7,351.3L1818.9,351.3 M254,361L263.8,361 M1828.7,361L1818.9,361 M254,370.7L263.8,370.7 M1828.7,370.7L1818.9,370.7 M254,380.5L263.8,380.5 M1828.7,380.5L1818.9,380.5 M254,390.2L263.8,390.2 M1828.7,390.2L1818.9,390.2 M254,399.9L263.8,399.9 M1828.7,399.9L1818.9,399.9 M254,409.7L263.8,409.7 M1828.7,409.7L1818.9,409.7 M254,419.4L263.8,419.4 M1828.7,419.4L1818.9,419.4 M254,438.8L263.8,438.8 M1828.7,438.8L1818.9,438.8 M254,448.6L263.8,448.6 M1828.7,448.6L1818.9,448.6 M254,458.3L263.8,458.3 M1828.7,458.3L1818.9,458.3 M254,468L263.8,468 M1828.7,468L1818.9,468 M254,477.8L263.8,477.8 M1828.7,477.8L1818.9,477.8 M254,487.5L263.8,487.5 M1828.7,487.5L1818.9,487.5 M254,497.2L263.8,497.2 M1828.7,497.2L1818.9,497.2 M254,506.9L263.8,506.9 M1828.7,506.9L1818.9,506.9 M254,516.7L263.8,516.7 M1828.7,516.7L1818.9,516.7 M254,536.1L263.8,536.1 M1828.7,536.1L1818.9,536.1 M254,545.8L263.8,545.8 M1828.7,545.8L1818.9,545.8 M254,555.6L263.8,555.6 M1828.7,555.6L1818.9,555.6 M254,565.3L263.8,565.3 M1828.7,565.3L1818.9,565.3 M254,575L263.8,575 M1828.7,575L1818.9,575 M254,584.8L263.8,584.8 M1828.7,584.8L1818.9,584.8 M254,594.5L263.8,594.5 M1828.7,594.5L1818.9,594.5 M254,604.2L263.8,604.2 M1828.7,604.2L1818.9,604.2 M254,613.9L263.8,613.9 M1828.7,613.9L1818.9,613.9 M254,633.4L263.8,633.4 M1828.7,633.4L1818.9,633.4 M254,643.1L263.8,643.1 M1828.7,643.1L1818.9,643.1 M254,652.8L263.8,652.8 M1828.7,652.8L1818.9,652.8 M254,662.6L263.8,662.6 M1828.7,662.6L1818.9,662.6 M254,672.3L263.8,672.3 M1828.7,672.3L1818.9,672.3 M254,682L263.8,682 M1828.7,682L1818.9,682 M254,691.8L263.8,691.8 M1828.7,691.8L1818.9,691.8 M254,701.5L263.8,701.5 M1828.7,701.5L1818.9,701.5 M254,711.2L263.8,711.2 M1828.7,711.2L1818.9,711.2 M254,730.7L263.8,730.7 M1828.7,730.7L1818.9,730.7 M254,740.4L263.8,740.4 M1828.7,740.4L1818.9,740.4 M254,750.1L263.8,750.1 M1828.7,750.1L1818.9,750.1 M254,759.9L263.8,759.9 M1828.7,759.9L1818.9,759.9 M254,769.6L263.8,769.6 M1828.7,769.6L1818.9,769.6 M254,779.3L263.8,779.3 M1828.7,779.3L1818.9,779.3 M254,789L263.8,789 M1828.7,789L1818.9,789 M254,798.8L263.8,798.8 M1828.7,798.8L1818.9,798.8 M254,808.5L263.8,808.5 M1828.7,808.5L1818.9,808.5 M254,828L263.8,828 M1828.7,828L1818.9,828 M254,837.7L263.8,837.7 M1828.7,837.7L1818.9,837.7 M254,847.4L263.8,847.4 M1828.7,847.4L1818.9,847.4 M254,857.1L263.8,857.1 M1828.7,857.1L1818.9,857.1 M254,866.9L263.8,866.9 M1828.7,866.9L1818.9,866.9 M254,876.6L263.8,876.6 M1828.7,876.6L1818.9,876.6 M254,886.3L263.8,886.3 M1828.7,886.3L1818.9,886.3 M254,896L263.8,896 M1828.7,896L1818.9,896 M254,905.8L263.8,905.8 M1828.7,905.8L1818.9,905.8" stroke="#000" stroke-width="3.7" fill="none"/>
<rect x="254" y="40" width="1574.7" height="875.5" fill="none" stroke="#000" stroke-width="3.75"/>
<path d="M411.5,2024.5L411.5,2004.7 M411.5,1149.4L411.5,1169.2 M726.4,2024.5L726.4,2004.7 M726.4,1149.4L726.4,1169.2 M1041.3,2024.5L1041.3,2004.7 M1041.3,1149.4L1041.3,1169.2 M1356.3,2024.5L1356.3,2004.7 M1356.3,1149.4L1356.3,1169.2 M1671.2,2024.5L1671.2,2004.7 M1671.2,1149.4L1671.2,1169.2 M568.9,2024.5L568.9,2014.7 M568.9,1149.4L568.9,1159.2 M883.9,2024.5L883.9,2014.7 M883.9,1149.4L883.9,1159.2 M1198.8,2024.5L1198.8,2014.7 M1198.8,1149.4L1198.8,1159.2 M1513.8,2024.5L1513.8,2014.7 M1513.8,1149.4L1513.8,1159.2 M254,1236.9L273.8,1236.9 M1828.7,1236.9L1808.9,1236.9 M254,1324.4L273.8,1324.4 M1828.7,1324.4L1808.9,1324.4 M254,1411.9L273.8,1411.9 M1828.7,1411.9L1808.9,1411.9 M254,1499.4L273.8,1499.4 M1828.7,1499.4L1808.9,1499.4 M254,1587L273.8,1587 M1828.7,1587L1808.9,1587 M254,1674.5L273.8,1674.5 M1828.7,1674.5L1808.9,1674.5 M254,1762L273.8,1762 M1828.7,1762L1808.9,1762 M254,1849.5L273.8,1849.5 M1828.7,1849.5L1808.9,1849.5 M254,1937L273.8,1937 M1828.7,1937L1808.9,1937 M254,1158.2L263.8,1158.2 M1828.7,1158.2L1818.9,1158.2 M254,1166.9L263.8,1166.9 M1828.7,1166.9L1818.9,1166.9 M254,1175.7L263.8,1175.7 M1828.7,1175.7L1818.9,1175.7 M254,1184.4L263.8,1184.4 M1828.7,1184.4L1818.9,1184.4 M254,1193.2L263.8,1193.2 M1828.7,1193.2L1818.9,1193.2 M254,1201.9L263.8,1201.9 M1828.7,1201.9L1818.9,1201.9 M254,1210.7L263.8,1210.7 M1828.7,1210.7L1818.9,1210.7 M254,1219.4L263.8,1219.4 M1828.7,1219.4L1818.9,1219.4 M254,1228.2L263.8,1228.2 M1828.7,1228.2L1818.9,1228.2 M254,1245.7L263.8,1245.7 M1828.7,1245.7L1818.9,1245.7 M254,1254.4L263.8,1254.4 M1828.7,1254.4L1818.9,1254.4 M254,1263.2L263.8,1263.2 M1828.7,1263.2L1818.9,1263.2 M254,1271.9L263.8,1271.9 M1828.7,1271.9L1818.9,1271.9 M254,1280.7L263.8,1280.7 M1828.7,1280.7L1818.9,1280.7 M254,1289.4L263.8,1289.4 M1828.7,1289.4L1818.9,1289.4 M254,1298.2L263.8,1298.2 M1828.7,1298.2L1818.9,1298.2 M254,1306.9L263.8,1306.9 M1828.7,1306.9L1818.9,1306.9 M254,1315.7L263.8,1315.7 M1828.7,1315.7L1818.9,1315.7 M254,1333.2L263.8,1333.2 M1828.7,1333.2L1818.9,1333.2 M254,1341.9L263.8,1341.9 M1828.7,1341.9L1818.9,1341.9 M254,1350.7L263.8,1350.7 M1828.7,1350.7L1818.9,1350.7 M254,1359.4L263.8,1359.4 M1828.7,1359.4L1818.9,1359.4 M254,1368.2L263.8,1368.2 M1828.7,1368.2L1818.9,1368.2 M254,1376.9L263.8,1376.9 M1828.7,1376.9L1818.9,1376.9 M254,1385.7L263.8,1385.7 M1828.7,1385.7L1818.9,1385.7 M254,1394.4L263.8,1394.4 M1828.7,1394.4L1818.9,1394.4 M254,1403.2L263.8,1403.2 M1828.7,1403.2L1818.9,1403.2 M254,1420.7L263.8,1420.7 M1828.7,1420.7L1818.9,1420.7 M254,1429.4L263.8,1429.4 M1828.7,1429.4L1818.9,1429.4 M254,1438.2L263.8,1438.2 M1828.7,1438.2L1818.9,1438.2 M254,1446.9L263.8,1446.9 M1828.7,1446.9L1818.9,1446.9 M254,1455.7L263.8,1455.7 M1828.7,1455.7L1818.9,1455.7 M254,1464.4L263.8,1464.4 M1828.7,1464.4L1818.9,1464.4 M254,1473.2L263.8,1473.2 M1828.7,1473.2L1818.9,1473.2 M254,1481.9L263.8,1481.9 M1828.7,1481.9L1818.9,1481.9 M254,1490.7L263.8,1490.7 M1828.7,1490.7L1818.9,1490.7 M254,1508.2L263.8,1508.2 M1828.7,1508.2L1818.9,1508.2 M254,1516.9L263.8,1516.9 M1828.7,1516.9L1818.9,1516.9 M254,1525.7L263.8,1525.7 M1828.7,1525.7L1818.9,1525.7 M254,1534.4L263.8,1534.4 M1828.7,1534.4L1818.9,1534.4 M254,1543.2L263.8,1543.2 M1828.7,1543.2L1818.9,1543.2 M254,1551.9L263.8,1551.9 M1828.7,1551.9L1818.9,1551.9 M254,1560.7L263.8,1560.7 M1828.7,1560.7L1818.9,1560.7 M254,1569.4L263.8,1569.4 M1828.7,1569.4L1818.9,1569.4 M254,1578.2L263.8,1578.2 M1828.7,1578.2L1818.9,1578.2 M254,1595.7L263.8,1595.7 M1828.7,1595.7L1818.9,1595.7 M254,1604.5L263.8,1604.5 M1828.7,1604.5L1818.9,1604.5 M254,1613.2L263.8,1613.2 M1828.7,1613.2L1818.9,1613.2 M254,1622L263.8,1622 M1828.7,1622L1818.9,1622 M254,1630.7L263.8,1630.7 M1828.7,1630.7L1818.9,1630.7 M254,1639.5L263.8,1639.5 M1828.7,1639.5L1818.9,1639.5 M254,1648.2L263.8,1648.2 M1828.7,1648.2L1818.9,1648.2 M254,1657L263.8,1657 M1828.7,1657L1818.9,1657 M254,1665.7L263.8,1665.7 M1828.7,1665.7L1818.9,1665.7 M254,1683.2L263.8,1683.2 M1828.7,1683.2L1818.9,1683.2 M254,1692L263.8,1692 M1828.7,1692L1818.9,1692 M254,1700.7L263.8,1700.7 M1828.7,1700.7L1818.9,1700.7 M254,1709.5L263.8,1709.5 M1828.7,1709.5L1818.9,1709.5 M254,1718.2L263.8,1718.2 M1828.7,1718.2L1818.9,1718.2 M254,1727L263.8,1727 M1828.7,1727L1818.9,1727 M254,1735.7L263.8,1735.7 M1828.7,1735.7L1818.9,1735.7 M254,1744.5L263.8,1744.5 M1828.7,1744.5L1818.9,1744.5 M254,1753.2L263.8,1753.2 M1828.7,1753.2L1818.9,1753.2 M254,1770.7L263.8,1770.7 M1828.7,1770.7L1818.9,1770.7 M254,1779.5L263.8,1779.5 M1828.7,1779.5L1818.9,1779.5 M254,1788.2L263.8,1788.2 M1828.7,1788.2L1818.9,1788.2 M254,1797L263.8,1797 M1828.7,1797L1818.9,1797 M254,1805.7L263.8,1805.7 M1828.7,1805.7L1818.9,1805.7 M254,1814.5L263.8,1814.5 M1828.7,1814.5L1818.9,1814.5 M254,1823.2L263.8,1823.2 M1828.7,1823.2L1818.9,1823.2 M254,1832L263.8,1832 M1828.7,1832L1818.9,1832 M254,1840.7L263.8,1840.7 M1828.7,1840.7L1818.9,1840.7 M254,1858.2L263.8,1858.2 M1828.7,1858.2L1818.9,1858.2 M254,1867L263.8,1867 M1828.7,1867L1818.9,1867 M254,1875.7L263.8,1875.7 M1828.7,1875.7L1818.9,1875.7 M254,1884.5L263.8,1884.5 M1828.7,1884.5L1818.9,1884.5 M254,1893.2L263.8,1893.2 M1828.7,1893.2L1818.9,1893.2 M254,1902L263.8,1902 M1828.7,1902L1818.9,1902 M254,1910.7L263.8,1910.7 M1828.7,1910.7L1818.9,1910.7 M254,1919.5L263.8,1919.5 M1828.7,1919.5L1818.9,1919.5 M254,1928.2L263.8,1928.2 M1828.7,1928.2L1818.9,1928.2 M254,1945.7L263.8,1945.7 M1828.7,1945.7L1818.9,1945.7 M254,1954.5L263.8,1954.5 M1828.7,1954.5L1818.9,1954.5 M254,1963.2L263.8,1963.2 M1828.7,1963.2L1818.9,1963.2 M254,1972L263.8,1972 M1828.7,1972L1818.9,1972 M254,1980.7L263.8,1980.7 M1828.7,1980.7L1818.9,1980.7 M254,1989.5L263.8,1989.5 M1828.7,1989.5L1818.9,1989.5 M254,1998.2L263.8,1998.2 M1828.7,1998.2L1818.9,1998.2 M254,2007L263.8,2007 M1828.7,2007L1818.9,2007 M254,2015.7L263.8,2015.7 M1828.7,2015.7L1818.9,2015.7" stroke="#000" stroke-width="3.7" fill="none"/>
<rect x="254" y="1149.4" width="1574.7" height="875.1" fill="none" stroke="#000" stroke-width="3.75"/>
<path d="M1025.7,3134L1025.7,3114.2 M1025.7,2258.5L1025.7,2278.3 M1797.4,3134L1797.4,3114.2 M1797.4,2258.5L1797.4,2278.3 M639.9,3134L639.9,3124.2 M639.9,2258.5L639.9,2268.3 M1411.6,3134L1411.6,3124.2 M1411.6,2258.5L1411.6,2268.3 M254,2346.1L273.8,2346.1 M1828.7,2346.1L1808.9,2346.1 M254,2433.6L273.8,2433.6 M1828.7,2433.6L1808.9,2433.6 M254,2521.2L273.8,2521.2 M1828.7,2521.2L1808.9,2521.2 M254,2608.7L273.8,2608.7 M1828.7,2608.7L1808.9,2608.7 M254,2696.2L273.8,2696.2 M1828.7,2696.2L1808.9,2696.2 M254,2783.8L273.8,2783.8 M1828.7,2783.8L1808.9,2783.8 M254,2871.3L273.8,2871.3 M1828.7,2871.3L1808.9,2871.3 M254,2958.9L273.8,2958.9 M1828.7,2958.9L1808.9,2958.9 M254,3046.4L273.8,3046.4 M1828.7,3046.4L1808.9,3046.4 M254,2267.3L263.8,2267.3 M1828.7,2267.3L1818.9,2267.3 M254,2276L263.8,2276 M1828.7,2276L1818.9,2276 M254,2284.8L263.8,2284.8 M1828.7,2284.8L1818.9,2284.8 M254,2293.5L263.8,2293.5 M1828.7,2293.5L1818.9,2293.5 M254,2302.3L263.8,2302.3 M1828.7,2302.3L1818.9,2302.3 M254,2311L263.8,2311 M1828.7,2311L1818.9,2311 M254,2319.8L263.8,2319.8 M1828.7,2319.8L1818.9,2319.8 M254,2328.5L263.8,2328.5 M1828.7,2328.5L1818.9,2328.5 M254,2337.3L263.8,2337.3 M1828.7,2337.3L1818.9,2337.3 M254,2354.8L263.8,2354.8 M1828.7,2354.8L1818.9,2354.8 M254,2363.6L263.8,2363.6 M1828.7,2363.6L1818.9,2363.6 M254,2372.3L263.8,2372.3 M1828.7,2372.3L1818.9,2372.3 M254,2381.1L263.8,2381.1 M1828.7,2381.1L1818.9,2381.1 M254,2389.8L263.8,2389.8 M1828.7,2389.8L1818.9,2389.8 M254,2398.6L263.8,2398.6 M1828.7,2398.6L1818.9,2398.6 M254,2407.3L263.8,2407.3 M1828.7,2407.3L1818.9,2407.3 M254,2416.1L263.8,2416.1 M1828.7,2416.1L1818.9,2416.1 M254,2424.8L263.8,2424.8 M1828.7,2424.8L1818.9,2424.8 M254,2442.4L263.8,2442.4 M1828.7,2442.4L1818.9,2442.4 M254,2451.1L263.8,2451.1 M1828.7,2451.1L1818.9,2451.1 M254,2459.9L263.8,2459.9 M1828.7,2459.9L1818.9,2459.9 M254,2468.6L263.8,2468.6 M1828.7,2468.6L1818.9,2468.6 M254,2477.4L263.8,2477.4 M1828.7,2477.4L1818.9,2477.4 M254,2486.1L263.8,2486.1 M1828.7,2486.1L1818.9,2486.1 M254,2494.9L263.8,2494.9 M1828.7,2494.9L1818.9,2494.9 M254,2503.6L263.8,2503.6 M1828.7,2503.6L1818.9,2503.6 M254,2512.4L263.8,2512.4 M1828.7,2512.4L1818.9,2512.4 M254,2529.9L263.8,2529.9 M1828.7,2529.9L1818.9,2529.9 M254,2538.7L263.8,2538.7 M1828.7,2538.7L1818.9,2538.7 M254,2547.4L263.8,2547.4 M1828.7,2547.4L1818.9,2547.4 M254,2556.2L263.8,2556.2 M1828.7,2556.2L1818.9,2556.2 M254,2564.9L263.8,2564.9 M1828.7,2564.9L1818.9,2564.9 M254,2573.7L263.8,2573.7 M1828.7,2573.7L1818.9,2573.7 M254,2582.4L263.8,2582.4 M1828.7,2582.4L1818.9,2582.4 M254,2591.2L263.8,2591.2 M1828.7,2591.2L1818.9,2591.2 M254,2599.9L263.8,2599.9 M1828.7,2599.9L1818.9,2599.9 M254,2617.5L263.8,2617.5 M1828.7,2617.5L1818.9,2617.5 M254,2626.2L263.8,2626.2 M1828.7,2626.2L1818.9,2626.2 M254,2635L263.8,2635 M1828.7,2635L1818.9,2635 M254,2643.7L263.8,2643.7 M1828.7,2643.7L1818.9,2643.7 M254,2652.5L263.8,2652.5 M1828.7,2652.5L1818.9,2652.5 M254,2661.2L263.8,2661.2 M1828.7,2661.2L1818.9,2661.2 M254,2670L263.8,2670 M1828.7,2670L1818.9,2670 M254,2678.7L263.8,2678.7 M1828.7,2678.7L1818.9,2678.7 M254,2687.5L263.8,2687.5 M1828.7,2687.5L1818.9,2687.5 M254,2705L263.8,2705 M1828.7,2705L1818.9,2705 M254,2713.8L263.8,2713.8 M1828.7,2713.8L1818.9,2713.8 M254,2722.5L263.8,2722.5 M1828.7,2722.5L1818.9,2722.5 M254,2731.3L263.8,2731.3 M1828.7,2731.3L1818.9,2731.3 M254,2740L263.8,2740 M1828.7,2740L1818.9,2740 M254,2748.8L263.8,2748.8 M1828.7,2748.8L1818.9,2748.8 M254,2757.5L263.8,2757.5 M1828.7,2757.5L1818.9,2757.5 M254,2766.3L263.8,2766.3 M1828.7,2766.3L1818.9,2766.3 M254,2775L263.8,2775 M1828.7,2775L1818.9,2775 M254,2792.6L263.8,2792.6 M1828.7,2792.6L1818.9,2792.6 M254,2801.3L263.8,2801.3 M1828.7,2801.3L1818.9,2801.3 M254,2810.1L263.8,2810.1 M1828.7,2810.1L1818.9,2810.1 M254,2818.8L263.8,2818.8 M1828.7,2818.8L1818.9,2818.8 M254,2827.6L263.8,2827.6 M1828.7,2827.6L1818.9,2827.6 M254,2836.3L263.8,2836.3 M1828.7,2836.3L1818.9,2836.3 M254,2845.1L263.8,2845.1 M1828.7,2845.1L1818.9,2845.1 M254,2853.8L263.8,2853.8 M1828.7,2853.8L1818.9,2853.8 M254,2862.6L263.8,2862.6 M1828.7,2862.6L1818.9,2862.6 M254,2880.1L263.8,2880.1 M1828.7,2880.1L1818.9,2880.1 M254,2888.9L263.8,2888.9 M1828.7,2888.9L1818.9,2888.9 M254,2897.6L263.8,2897.6 M1828.7,2897.6L1818.9,2897.6 M254,2906.4L263.8,2906.4 M1828.7,2906.4L1818.9,2906.4 M254,2915.1L263.8,2915.1 M1828.7,2915.1L1818.9,2915.1 M254,2923.9L263.8,2923.9 M1828.7,2923.9L1818.9,2923.9 M254,2932.6L263.8,2932.6 M1828.7,2932.6L1818.9,2932.6 M254,2941.4L263.8,2941.4 M1828.7,2941.4L1818.9,2941.4 M254,2950.1L263.8,2950.1 M1828.7,2950.1L1818.9,2950.1 M254,2967.7L263.8,2967.7 M1828.7,2967.7L1818.9,2967.7 M254,2976.4L263.8,2976.4 M1828.7,2976.4L1818.9,2976.4 M254,2985.2L263.8,2985.2 M1828.7,2985.2L1818.9,2985.2 M254,2993.9L263.8,2993.9 M1828.7,2993.9L1818.9,2993.9 M254,3002.7L263.8,3002.7 M1828.7,3002.7L1818.9,3002.7 M254,3011.4L263.8,3011.4 M1828.7,3011.4L1818.9,3011.4 M254,3020.2L263.8,3020.2 M1828.7,3020.2L1818.9,3020.2 M254,3028.9L263.8,3028.9 M1828.7,3028.9L1818.9,3028.9 M254,3037.7L263.8,3037.7 M1828.7,3037.7L1818.9,3037.7 M254,3055.2L263.8,3055.2 M1828.7,3055.2L1818.9,3055.2 M254,3064L263.8,3064 M1828.7,3064L1818.9,3064 M254,3072.7L263.8,3072.7 M1828.7,3072.7L1818.9,3072.7 M254,3081.5L263.8,3081.5 M1828.7,3081.5L1818.9,3081.5 M254,3090.2L263.8,3090.2 M1828.7,3090.2L1818.9,3090.2 M254,3099L263.8,3099 M1828.7,3099L1818.9,3099 M254,3107.7L263.8,3107.7 M1828.7,3107.7L1818.9,3107.7 M254,3116.5L263.8,3116.5 M1828.7,3116.5L1818.9,3116.5 M254,3125.2L263.8,3125.2 M1828.7,3125.2L1818.9,3125.2" stroke="#000" stroke-width="3.7" fill="none"/>
<rect x="254" y="2258.5" width="1574.7" height="875.5" fill="none" stroke="#000" stroke-width="3.75"/>
<text x="237.2" y="84.3" font-family="'Liberation Serif', 'Times New Roman', serif" font-weight="bold" font-size="67.3" text-anchor="end">0</text>
<text x="237.2" y="160.1" font-family="'Liberation Serif', 'Times New Roman', serif" font-weight="bold" font-size="67.3" text-anchor="end"><tspan font-size="76" dy="3.4">−</tspan><tspan dx="-3" dy="-3.4">10</tspan></text>
<text x="237.2" y="257.4" font-family="'Liberation Serif', 'Times New Roman', serif" font-weight="bold" font-size="67.3" text-anchor="end"><tspan font-size="76" dy="3.4">−</tspan><tspan dx="-3" dy="-3.4">20</tspan></text>
<text x="237.2" y="354.6" font-family="'Liberation Serif', 'Times New Roman', serif" font-weight="bold" font-size="67.3" text-anchor="end"><tspan font-size="76" dy="3.4">−</tspan><tspan dx="-3" dy="-3.4">30</tspan></text>
<text x="237.2" y="451.9" font-family="'Liberation Serif', 'Times New Roman', serif" font-weight="bold" font-size="67.3" text-anchor="end"><tspan font-size="76" dy="3.4">−</tspan><tspan dx="-3" dy="-3.4">40</tspan></text>
<text x="237.2" y="549.2" font-family="'Liberation Serif', 'Times New Roman', serif" font-weight="bold" font-size="67.3" text-anchor="end"><tspan font-size="76" dy="3.4">−</tspan><tspan dx="-3" dy="-3.4">50</tspan></text>
<text x="237.2" y="646.5" font-family="'Liberation Serif', 'Times New Roman', serif" font-weight="bold" font-size="67.3" text-anchor="end"><tspan font-size="76" dy="3.4">−</tspan><tspan dx="-3" dy="-3.4">60</tspan></text>
<text x="237.2" y="743.7" font-family="'Liberation Serif', 'Times New Roman', serif" font-weight="bold" font-size="67.3" text-anchor="end"><tspan font-size="76" dy="3.4">−</tspan><tspan dx="-3" dy="-3.4">70</tspan></text>
<text x="237.2" y="841" font-family="'Liberation Serif', 'Times New Roman', serif" font-weight="bold" font-size="67.3" text-anchor="end"><tspan font-size="76" dy="3.4">−</tspan><tspan dx="-3" dy="-3.4">80</tspan></text>
<text x="237.2" y="938.3" font-family="'Liberation Serif', 'Times New Roman', serif" font-weight="bold" font-size="67.3" text-anchor="end"><tspan font-size="76" dy="3.4">−</tspan><tspan dx="-3" dy="-3.4">90</tspan></text>
<text x="237.2" y="1193.7" font-family="'Liberation Serif', 'Times New Roman', serif" font-weight="bold" font-size="67.3" text-anchor="end">10</text>
<text x="237.2" y="1259.7" font-family="'Liberation Serif', 'Times New Roman', serif" font-weight="bold" font-size="67.3" text-anchor="end">0</text>
<text x="237.2" y="1347.2" font-family="'Liberation Serif', 'Times New Roman', serif" font-weight="bold" font-size="67.3" text-anchor="end"><tspan font-size="76" dy="3.4">−</tspan><tspan dx="-3" dy="-3.4">10</tspan></text>
<text x="237.2" y="1434.7" font-family="'Liberation Serif', 'Times New Roman', serif" font-weight="bold" font-size="67.3" text-anchor="end"><tspan font-size="76" dy="3.4">−</tspan><tspan dx="-3" dy="-3.4">20</tspan></text>
<text x="237.2" y="1522.2" font-family="'Liberation Serif', 'Times New Roman', serif" font-weight="bold" font-size="67.3" text-anchor="end"><tspan font-size="76" dy="3.4">−</tspan><tspan dx="-3" dy="-3.4">30</tspan></text>
<text x="237.2" y="1609.8" font-family="'Liberation Serif', 'Times New Roman', serif" font-weight="bold" font-size="67.3" text-anchor="end"><tspan font-size="76" dy="3.4">−</tspan><tspan dx="-3" dy="-3.4">40</tspan></text>
<text x="237.2" y="1697.3" font-family="'Liberation Serif', 'Times New Roman', serif" font-weight="bold" font-size="67.3" text-anchor="end"><tspan font-size="76" dy="3.4">−</tspan><tspan dx="-3" dy="-3.4">50</tspan></text>
<text x="237.2" y="1784.8" font-family="'Liberation Serif', 'Times New Roman', serif" font-weight="bold" font-size="67.3" text-anchor="end"><tspan font-size="76" dy="3.4">−</tspan><tspan dx="-3" dy="-3.4">60</tspan></text>
<text x="237.2" y="1872.3" font-family="'Liberation Serif', 'Times New Roman', serif" font-weight="bold" font-size="67.3" text-anchor="end"><tspan font-size="76" dy="3.4">−</tspan><tspan dx="-3" dy="-3.4">70</tspan></text>
<text x="237.2" y="1959.8" font-family="'Liberation Serif', 'Times New Roman', serif" font-weight="bold" font-size="67.3" text-anchor="end"><tspan font-size="76" dy="3.4">−</tspan><tspan dx="-3" dy="-3.4">80</tspan></text>
<text x="237.2" y="2047.3" font-family="'Liberation Serif', 'Times New Roman', serif" font-weight="bold" font-size="67.3" text-anchor="end"><tspan font-size="76" dy="3.4">−</tspan><tspan dx="-3" dy="-3.4">90</tspan></text>
<text x="237.2" y="2302.8" font-family="'Liberation Serif', 'Times New Roman', serif" font-weight="bold" font-size="67.3" text-anchor="end">10</text>
<text x="237.2" y="2368.9" font-family="'Liberation Serif', 'Times New Roman', serif" font-weight="bold" font-size="67.3" text-anchor="end">0</text>
<text x="237.2" y="2456.4" font-family="'Liberation Serif', 'Times New Roman', serif" font-weight="bold" font-size="67.3" text-anchor="end"><tspan font-size="76" dy="3.4">−</tspan><tspan dx="-3" dy="-3.4">10</tspan></text>
<text x="237.2" y="2544" font-family="'Liberation Serif', 'Times New Roman', serif" font-weight="bold" font-size="67.3" text-anchor="end"><tspan font-size="76" dy="3.4">−</tspan><tspan dx="-3" dy="-3.4">20</tspan></text>
<text x="237.2" y="2631.5" font-family="'Liberation Serif', 'Times New Roman', serif" font-weight="bold" font-size="67.3" text-anchor="end"><tspan font-size="76" dy="3.4">−</tspan><tspan dx="-3" dy="-3.4">30</tspan></text>
<text x="237.2" y="2719.1" font-family="'Liberation Serif', 'Times New Roman', serif" font-weight="bold" font-size="67.3" text-anchor="end"><tspan font-size="76" dy="3.4">−</tspan><tspan dx="-3" dy="-3.4">40</tspan></text>
<text x="237.2" y="2806.6" font-family="'Liberation Serif', 'Times New Roman', serif" font-weight="bold" font-size="67.3" text-anchor="end"><tspan font-size="76" dy="3.4">−</tspan><tspan dx="-3" dy="-3.4">50</tspan></text>
<text x="237.2" y="2894.2" font-family="'Liberation Serif', 'Times New Roman', serif" font-weight="bold" font-size="67.3" text-anchor="end"><tspan font-size="76" dy="3.4">−</tspan><tspan dx="-3" dy="-3.4">60</tspan></text>
<text x="237.2" y="2981.7" font-family="'Liberation Serif', 'Times New Roman', serif" font-weight="bold" font-size="67.3" text-anchor="end"><tspan font-size="76" dy="3.4">−</tspan><tspan dx="-3" dy="-3.4">70</tspan></text>
<text x="237.2" y="3069.2" font-family="'Liberation Serif', 'Times New Roman', serif" font-weight="bold" font-size="67.3" text-anchor="end"><tspan font-size="76" dy="3.4">−</tspan><tspan dx="-3" dy="-3.4">80</tspan></text>
<text x="237.2" y="3156.8" font-family="'Liberation Serif', 'Times New Roman', serif" font-weight="bold" font-size="67.3" text-anchor="end"><tspan font-size="76" dy="3.4">−</tspan><tspan dx="-3" dy="-3.4">90</tspan></text>
<text x="254" y="993" font-family="'Liberation Serif', 'Times New Roman', serif" font-weight="bold" font-size="67.3" text-anchor="middle">0</text>
<text x="450.8" y="993" font-family="'Liberation Serif', 'Times New Roman', serif" font-weight="bold" font-size="67.3" text-anchor="middle">5</text>
<text x="647.7" y="993" font-family="'Liberation Serif', 'Times New Roman', serif" font-weight="bold" font-size="67.3" text-anchor="middle">10</text>
<text x="844.5" y="993" font-family="'Liberation Serif', 'Times New Roman', serif" font-weight="bold" font-size="67.3" text-anchor="middle">15</text>
<text x="1041.3" y="993" font-family="'Liberation Serif', 'Times New Roman', serif" font-weight="bold" font-size="67.3" text-anchor="middle">20</text>
<text x="1238.2" y="993" font-family="'Liberation Serif', 'Times New Roman', serif" font-weight="bold" font-size="67.3" text-anchor="middle">25</text>
<text x="1435" y="993" font-family="'Liberation Serif', 'Times New Roman', serif" font-weight="bold" font-size="67.3" text-anchor="middle">30</text>
<text x="1631.9" y="993" font-family="'Liberation Serif', 'Times New Roman', serif" font-weight="bold" font-size="67.3" text-anchor="middle">35</text>
<text x="1828.7" y="993" font-family="'Liberation Serif', 'Times New Roman', serif" font-weight="bold" font-size="67.3" text-anchor="middle">40</text>
<text x="411.5" y="2101" font-family="'Liberation Serif', 'Times New Roman', serif" font-weight="bold" font-size="67.3" text-anchor="middle">20.0186</text>
<text x="726.4" y="2101" font-family="'Liberation Serif', 'Times New Roman', serif" font-weight="bold" font-size="67.3" text-anchor="middle">20.0188</text>
<text x="1041.3" y="2101" font-family="'Liberation Serif', 'Times New Roman', serif" font-weight="bold" font-size="67.3" text-anchor="middle">20.019</text>
<text x="1356.3" y="2101" font-family="'Liberation Serif', 'Times New Roman', serif" font-weight="bold" font-size="67.3" text-anchor="middle">20.0192</text>
<text x="1671.2" y="2101" font-family="'Liberation Serif', 'Times New Roman', serif" font-weight="bold" font-size="67.3" text-anchor="middle">20.0194</text>
<text x="254" y="3211.3" font-family="'Liberation Serif', 'Times New Roman', serif" font-weight="bold" font-size="67.3" text-anchor="middle">20.01899995</text>
<text x="1025.7" y="3211.3" font-family="'Liberation Serif', 'Times New Roman', serif" font-weight="bold" font-size="67.3" text-anchor="middle">20.019</text>
<text x="1731" y="3211.3" font-family="'Liberation Serif', 'Times New Roman', serif" font-weight="bold" font-size="67.3" text-anchor="middle">20.01900005</text>
<text x="1041" y="1100.4" font-family="'Liberation Serif', 'Times New Roman', serif" font-weight="bold" font-size="78.4" text-anchor="middle">Frequency(GHz)</text>
<text x="1041" y="2207.9" font-family="'Liberation Serif', 'Times New Roman', serif" font-weight="bold" font-size="78.4" text-anchor="middle">Frequency(GHz)</text>
<text x="1041" y="3318.1" font-family="'Liberation Serif', 'Times New Roman', serif" font-weight="bold" font-size="78.4" text-anchor="middle">Frequency(GHz)</text>
<text transform="translate(86 477.6) rotate(-90)" x="0" y="0" font-family="'Liberation Serif', 'Times New Roman', serif" font-weight="bold" font-size="78.4" text-anchor="middle">Power(dBm)</text>
<text transform="translate(86 1586.5) rotate(-90)" x="0" y="0" font-family="'Liberation Serif', 'Times New Roman', serif" font-weight="bold" font-size="78.4" text-anchor="middle">Power(dBm)</text>
<text transform="translate(86 2695.8) rotate(-90)" x="0" y="0" font-family="'Liberation Serif', 'Times New Roman', serif" font-weight="bold" font-size="78.4" text-anchor="middle">Power(dBm)</text>
<text x="293.5" y="112" font-family="'Liberation Serif', 'Times New Roman', serif" font-weight="bold" font-size="55">(a)</text>
<text x="293.9" y="1222.3" font-family="'Liberation Serif', 'Times New Roman', serif" font-weight="bold" font-size="55">(b)</text>
<text x="293.9" y="2330.5" font-family="'Liberation Serif', 'Times New Roman', serif" font-weight="bold" font-size="55">(c)</text>
<text x="1453.5" y="116.3" font-family="'Liberation Serif', 'Times New Roman', serif" font-weight="bold" font-size="55">RBW: 1 MHz</text>
<text x="1453.5" y="193.4" font-family="'Liberation Serif', 'Times New Roman', serif" font-weight="bold" font-size="55">VBW: 1 MHz</text>
<text x="1453.5" y="269.0" font-family="'Liberation Serif', 'Times New Roman', serif" font-weight="bold" font-size="55">SPAN: 40 GHz</text>
<text x="1453.5" y="1224.9" font-family="'Liberation Serif', 'Times New Roman', serif" font-weight="bold" font-size="55">RBW: 10 kHz</text>
<text x="1453.5" y="1301.9" font-family="'Liberation Serif', 'Times New Roman', serif" font-weight="bold" font-size="55">VBW: 10 kHz</text>
<text x="1453.5" y="1378.4" font-family="'Liberation Serif', 'Times New Roman', serif" font-weight="bold" font-size="55">SPAN: 1 MHz</text>
<text x="1453.5" y="2334.1" font-family="'Liberation Serif', 'Times New Roman', serif" font-weight="bold" font-size="55">RBW: 1 Hz</text>
<text x="1453.5" y="2410.6" font-family="'Liberation Serif', 'Times New Roman', serif" font-weight="bold" font-size="55">VBW: 1 Hz</text>
<text x="1453.5" y="2487" font-family="'Liberation Serif', 'Times New Roman', serif" font-weight="bold" font-size="55">SPAN: 100 Hz</text>
</svg></body></html>
